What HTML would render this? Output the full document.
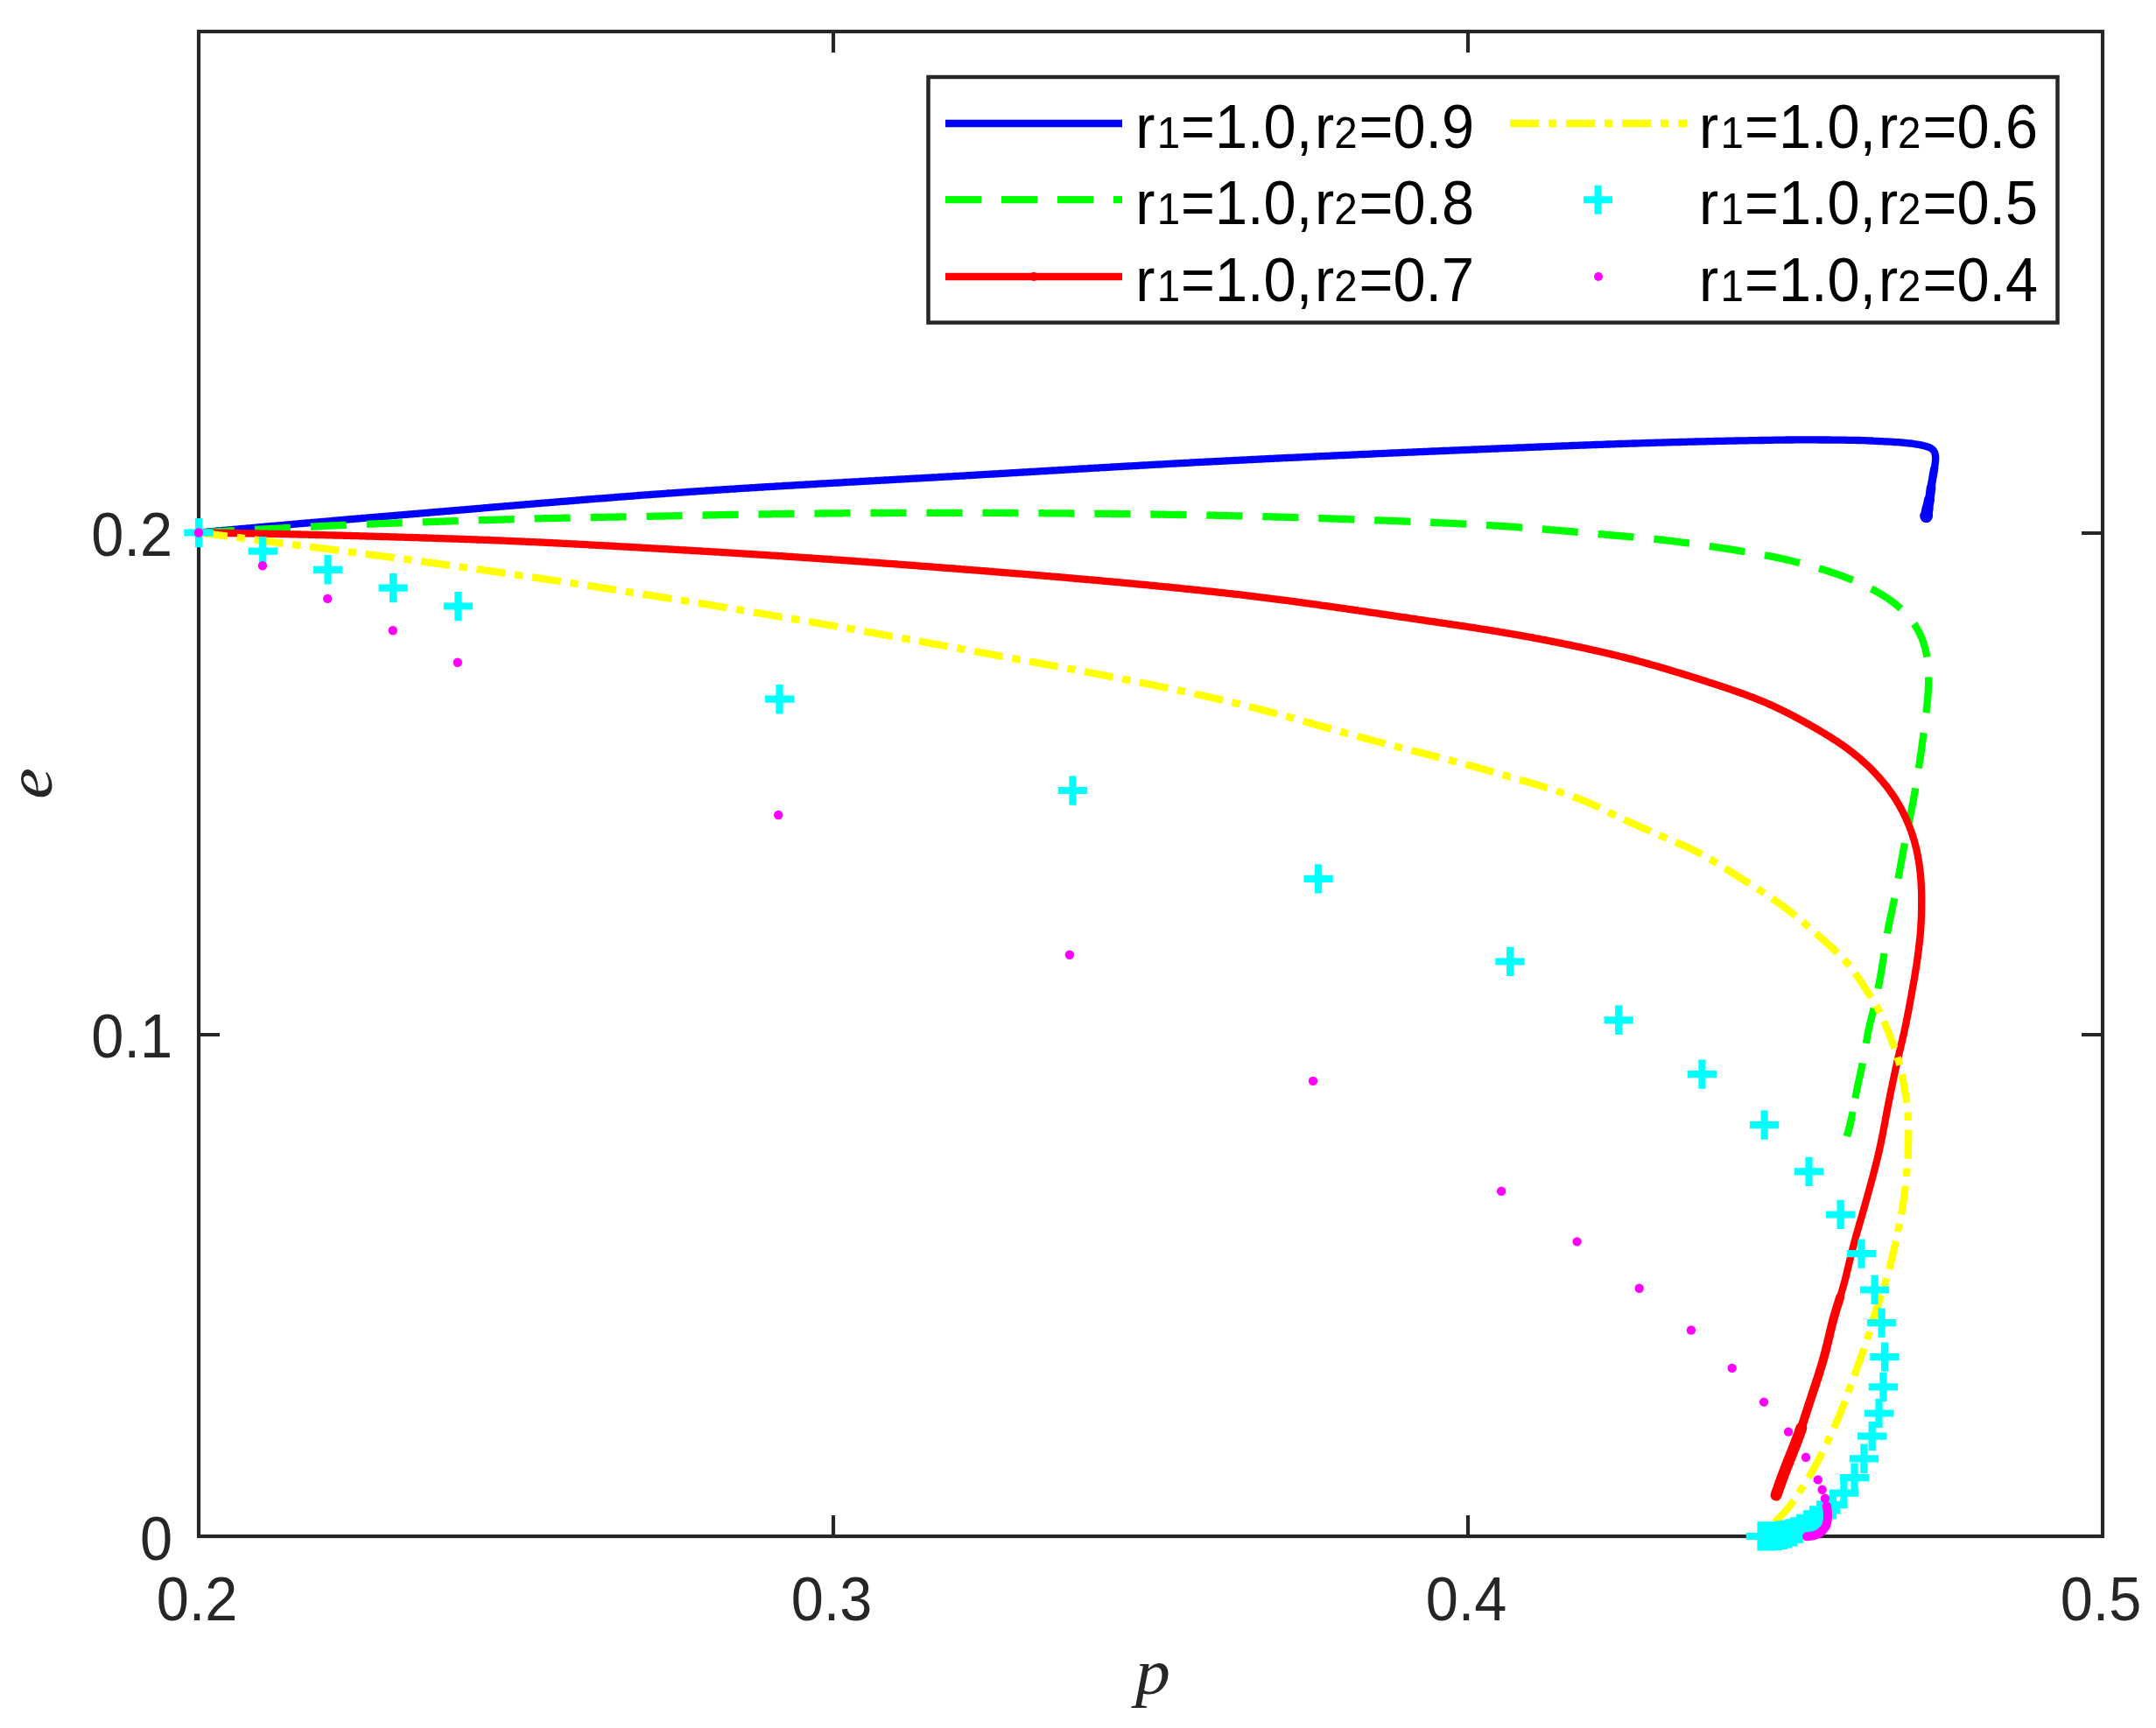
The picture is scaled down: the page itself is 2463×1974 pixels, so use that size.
<!DOCTYPE html>
<html lang="en"><head><meta charset="utf-8"><title>Trajectories of p and e</title>
<style>html,body{margin:0;padding:0;background:#fff}svg{display:block}.tk{font-family:"Liberation Sans",sans-serif;font-size:66.67px;fill:#262626}.lg{font-family:"Liberation Sans",sans-serif;font-size:66.67px;fill:#000}.sb{font-size:47.5px}.ax{font-family:"Liberation Serif",serif;font-style:italic;fill:#262626}</style></head><body>
<svg width="2463" height="1974" viewBox="0 0 2463 1974">
<rect width="2463" height="1974" fill="#fff"/>
<g stroke="#262626" stroke-width="4.17" fill="none" stroke-linecap="butt">
<rect x="227" y="36" width="2175" height="1719"/>
<path d="M952 1755 v-24 M952 36 v24"/>
<path d="M1677 1755 v-24 M1677 36 v24"/>
<path d="M227 1182 h24 M2402 1182 h-24"/>
<path d="M227 609 h24 M2402 609 h-24"/>
</g>
<text class="tk" transform="translate(225 1851) scale(1 1.06)" text-anchor="middle">0.2</text>
<text class="tk" transform="translate(950 1851) scale(1 1.06)" text-anchor="middle">0.3</text>
<text class="tk" transform="translate(1675 1851) scale(1 1.06)" text-anchor="middle">0.4</text>
<text class="tk" transform="translate(2400 1851) scale(1 1.06)" text-anchor="middle">0.5</text>
<text class="tk" transform="translate(197 1782) scale(1 1.06)" text-anchor="end">0</text>
<text class="tk" transform="translate(197 1208) scale(1 1.06)" text-anchor="end">0.1</text>
<text class="tk" transform="translate(197 635) scale(1 1.06)" text-anchor="end">0.2</text>
<text class="ax" transform="translate(1317 1934.5) scale(1.08 1)" font-size="74" text-anchor="middle">p</text>
<text class="ax" transform="translate(58.5 895) rotate(-90) scale(1.08 1)" font-size="74" text-anchor="middle">e</text>
<path d="M227.0 608.5 L229.0 608.3 L231.0 608.1 L233.0 608.0 L235.0 607.8 L237.0 607.6 L239.0 607.4 L240.9 607.2 L242.9 607.1 L244.9 606.9 L246.9 606.7 L248.9 606.5 L250.9 606.3 L252.9 606.2 L254.9 606.0 L256.9 605.8 L258.9 605.6 L260.9 605.4 L262.9 605.3 L264.9 605.1 L266.9 604.9 L268.8 604.7 L270.8 604.6 L272.8 604.4 L274.8 604.2 L276.8 604.0 L278.8 603.8 L280.8 603.7 L282.8 603.5 L284.8 603.3 L286.8 603.1 L288.8 603.0 L290.8 602.8 L292.8 602.6 L294.8 602.4 L296.7 602.2 L298.7 602.1 L300.7 601.9 L302.7 601.7 L304.7 601.5 L306.7 601.4 L308.7 601.2 L310.7 601.0 L312.7 600.8 L314.7 600.7 L316.7 600.5 L318.7 600.3 L320.7 600.1 L322.7 600.0 L324.6 599.8 L326.6 599.6 L328.6 599.4 L330.6 599.3 L332.6 599.1 L334.6 598.9 L336.6 598.7 L338.6 598.6 L340.6 598.4 L342.6 598.2 L344.6 598.0 L346.6 597.9 L348.6 597.7 L350.6 597.5 L352.5 597.3 L354.5 597.2 L356.5 597.0 L358.5 596.8 L360.5 596.6 L362.5 596.5 L364.5 596.3 L366.5 596.1 L368.5 595.9 L370.5 595.8 L372.5 595.6 L374.5 595.4 L376.5 595.3 L378.5 595.1 L380.5 594.9 L382.4 594.7 L384.4 594.6 L386.4 594.4 L388.4 594.2 L390.4 594.1 L392.4 593.9 L394.4 593.7 L396.4 593.5 L398.4 593.4 L400.4 593.2 L402.4 593.0 L404.4 592.9 L406.4 592.7 L408.4 592.5 L410.4 592.3 L412.3 592.2 L414.3 592.0 L416.3 591.8 L418.3 591.7 L420.3 591.5 L422.3 591.3 L424.3 591.1 L426.3 591.0 L428.3 590.8 L430.3 590.6 L432.3 590.5 L434.3 590.3 L436.3 590.1 L438.3 590.0 L440.3 589.8 L442.2 589.6 L444.2 589.5 L446.2 589.3 L448.2 589.1 L450.2 589.0 L452.2 588.8 L454.2 588.6 L456.2 588.4 L458.2 588.3 L460.2 588.1 L462.2 587.9 L464.2 587.8 L466.2 587.6 L468.2 587.4 L470.2 587.3 L472.2 587.1 L474.1 586.9 L476.1 586.8 L478.1 586.6 L480.1 586.4 L482.1 586.3 L484.1 586.1 L486.1 585.9 L488.1 585.8 L490.1 585.6 L492.1 585.4 L494.1 585.3 L496.1 585.1 L498.1 584.9 L500.1 584.8 L502.1 584.6 L504.1 584.4 L506.0 584.3 L508.0 584.1 L510.0 583.9 L512.0 583.8 L514.0 583.6 L516.0 583.4 L518.0 583.3 L520.0 583.1 L522.0 582.9 L524.0 582.8 L526.0 582.6 L528.0 582.4 L530.0 582.3 L532.0 582.1 L534.0 581.9 L536.0 581.8 L537.9 581.6 L539.9 581.4 L541.9 581.3 L543.9 581.1 L545.9 580.9 L547.9 580.8 L549.9 580.6 L551.9 580.4 L553.9 580.2 L555.9 580.1 L557.9 579.9 L559.9 579.7 L561.9 579.6 L563.9 579.4 L565.9 579.2 L567.9 579.1 L569.8 578.9 L571.8 578.7 L573.8 578.6 L575.8 578.4 L577.8 578.2 L579.8 578.1 L581.8 577.9 L583.8 577.7 L585.8 577.6 L587.8 577.4 L589.8 577.2 L591.8 577.1 L593.8 576.9 L595.8 576.7 L597.8 576.6 L599.8 576.4 L601.8 576.2 L603.7 576.1 L605.7 575.9 L607.7 575.7 L609.7 575.6 L611.7 575.4 L613.7 575.2 L615.7 575.1 L617.7 574.9 L619.7 574.7 L621.7 574.6 L623.7 574.4 L625.7 574.3 L627.7 574.1 L629.7 573.9 L631.7 573.8 L633.7 573.6 L635.6 573.4 L637.6 573.3 L639.6 573.1 L641.6 572.9 L643.6 572.8 L645.6 572.6 L647.6 572.5 L649.6 572.3 L651.6 572.1 L653.6 572.0 L655.6 571.8 L657.6 571.7 L659.6 571.5 L661.6 571.3 L663.6 571.2 L665.6 571.0 L667.6 570.9 L669.6 570.7 L671.5 570.5 L673.5 570.4 L675.5 570.2 L677.5 570.1 L679.5 569.9 L681.5 569.7 L683.5 569.6 L685.5 569.4 L687.5 569.3 L689.5 569.1 L691.5 569.0 L693.5 568.8 L695.5 568.6 L697.5 568.5 L699.5 568.3 L701.5 568.2 L703.5 568.0 L705.5 567.9 L707.4 567.7 L709.4 567.6 L711.4 567.4 L713.4 567.3 L715.4 567.1 L717.4 566.9 L719.4 566.8 L721.4 566.6 L723.4 566.5 L725.4 566.3 L727.4 566.2 L729.4 566.0 L731.4 565.9 L733.4 565.7 L735.4 565.6 L737.4 565.4 L739.4 565.3 L741.4 565.1 L743.4 565.0 L745.4 564.9 L747.3 564.7 L749.3 564.6 L751.3 564.4 L753.3 564.3 L755.3 564.1 L757.3 564.0 L759.3 563.8 L761.3 563.7 L763.3 563.5 L765.3 563.4 L767.3 563.3 L769.3 563.1 L771.3 563.0 L773.3 562.8 L775.3 562.7 L777.3 562.6 L779.3 562.4 L781.3 562.3 L783.3 562.1 L785.3 562.0 L787.3 561.9 L789.3 561.7 L791.2 561.6 L793.2 561.5 L795.2 561.3 L797.2 561.2 L799.2 561.1 L801.2 560.9 L803.2 560.8 L805.2 560.7 L807.2 560.5 L809.2 560.4 L811.2 560.3 L813.2 560.1 L815.2 560.0 L817.2 559.9 L819.2 559.7 L821.2 559.6 L823.2 559.5 L825.2 559.3 L827.2 559.2 L829.2 559.1 L831.2 559.0 L833.2 558.8 L835.2 558.7 L837.2 558.6 L839.2 558.5 L841.2 558.3 L843.1 558.2 L845.1 558.1 L847.1 557.9 L849.1 557.8 L851.1 557.7 L853.1 557.6 L855.1 557.5 L857.1 557.3 L859.1 557.2 L861.1 557.1 L863.1 557.0 L865.1 556.8 L867.1 556.7 L869.1 556.6 L871.1 556.5 L873.1 556.4 L875.1 556.2 L877.1 556.1 L879.1 556.0 L881.1 555.9 L883.1 555.8 L885.1 555.6 L887.1 555.5 L889.1 555.4 L891.1 555.3 L893.1 555.2 L895.1 555.0 L897.1 554.9 L899.1 554.8 L901.1 554.7 L903.1 554.6 L905.1 554.5 L907.1 554.3 L909.0 554.2 L911.0 554.1 L913.0 554.0 L915.0 553.9 L917.0 553.8 L919.0 553.6 L921.0 553.5 L923.0 553.4 L925.0 553.3 L927.0 553.2 L929.0 553.1 L931.0 553.0 L933.0 552.8 L935.0 552.7 L937.0 552.6 L939.0 552.5 L941.0 552.4 L943.0 552.3 L945.0 552.2 L947.0 552.1 L949.0 551.9 L951.0 551.8 L953.0 551.7 L955.0 551.6 L957.0 551.5 L959.0 551.4 L961.0 551.3 L963.0 551.2 L965.0 551.0 L967.0 550.9 L969.0 550.8 L971.0 550.7 L973.0 550.6 L975.0 550.5 L977.0 550.4 L979.0 550.3 L981.0 550.2 L983.0 550.0 L985.0 549.9 L987.0 549.8 L989.0 549.7 L991.0 549.6 L992.9 549.5 L994.9 549.4 L996.9 549.3 L998.9 549.2 L1000.9 549.0 L1002.9 548.9 L1004.9 548.8 L1006.9 548.7 L1008.9 548.6 L1010.9 548.5 L1012.9 548.4 L1014.9 548.3 L1016.9 548.2 L1018.9 548.1 L1020.9 547.9 L1022.9 547.8 L1024.9 547.7 L1026.9 547.6 L1028.9 547.5 L1030.9 547.4 L1032.9 547.3 L1034.9 547.2 L1036.9 547.1 L1038.9 546.9 L1040.9 546.8 L1042.9 546.7 L1044.9 546.6 L1046.9 546.5 L1048.9 546.4 L1050.9 546.3 L1052.9 546.2 L1054.9 546.1 L1056.9 545.9 L1058.9 545.8 L1060.9 545.7 L1062.9 545.6 L1064.9 545.5 L1066.9 545.4 L1068.9 545.3 L1070.9 545.2 L1072.9 545.0 L1074.9 544.9 L1076.9 544.8 L1078.8 544.7 L1080.8 544.6 L1082.8 544.5 L1084.8 544.4 L1086.8 544.3 L1088.8 544.1 L1090.8 544.0 L1092.8 543.9 L1094.8 543.8 L1096.8 543.7 L1098.8 543.6 L1100.8 543.5 L1102.8 543.3 L1104.8 543.2 L1106.8 543.1 L1108.8 543.0 L1110.8 542.9 L1112.8 542.8 L1114.8 542.6 L1116.8 542.5 L1118.8 542.4 L1120.8 542.3 L1122.8 542.2 L1124.8 542.1 L1126.8 541.9 L1128.8 541.8 L1130.8 541.7 L1132.8 541.6 L1134.8 541.5 L1136.8 541.4 L1138.8 541.3 L1140.8 541.1 L1142.8 541.0 L1144.8 540.9 L1146.8 540.8 L1148.8 540.7 L1150.8 540.6 L1152.8 540.4 L1154.7 540.3 L1156.7 540.2 L1158.7 540.1 L1160.7 540.0 L1162.7 539.8 L1164.7 539.7 L1166.7 539.6 L1168.7 539.5 L1170.7 539.4 L1172.7 539.3 L1174.7 539.1 L1176.7 539.0 L1178.7 538.9 L1180.7 538.8 L1182.7 538.7 L1184.7 538.6 L1186.7 538.4 L1188.7 538.3 L1190.7 538.2 L1192.7 538.1 L1194.7 538.0 L1196.7 537.9 L1198.7 537.7 L1200.7 537.6 L1202.7 537.5 L1204.7 537.4 L1206.7 537.3 L1208.7 537.1 L1210.7 537.0 L1212.7 536.9 L1214.7 536.8 L1216.7 536.7 L1218.7 536.6 L1220.7 536.4 L1222.7 536.3 L1224.7 536.2 L1226.7 536.1 L1228.7 536.0 L1230.6 535.9 L1232.6 535.7 L1234.6 535.6 L1236.6 535.5 L1238.6 535.4 L1240.6 535.3 L1242.6 535.2 L1244.6 535.0 L1246.6 534.9 L1248.6 534.8 L1250.6 534.7 L1252.6 534.6 L1254.6 534.5 L1256.6 534.3 L1258.6 534.2 L1260.6 534.1 L1262.6 534.0 L1264.6 533.9 L1266.6 533.8 L1268.6 533.7 L1270.6 533.5 L1272.6 533.4 L1274.6 533.3 L1276.6 533.2 L1278.6 533.1 L1280.6 533.0 L1282.6 532.9 L1284.6 532.7 L1286.6 532.6 L1288.6 532.5 L1290.6 532.4 L1292.6 532.3 L1294.6 532.2 L1296.6 532.1 L1298.6 532.0 L1300.6 531.8 L1302.6 531.7 L1304.6 531.6 L1306.5 531.5 L1308.5 531.4 L1310.5 531.3 L1312.5 531.2 L1314.5 531.1 L1316.5 530.9 L1318.5 530.8 L1320.5 530.7 L1322.5 530.6 L1324.5 530.5 L1326.5 530.4 L1328.5 530.3 L1330.5 530.2 L1332.5 530.1 L1334.5 529.9 L1336.5 529.8 L1338.5 529.7 L1340.5 529.6 L1342.5 529.5 L1344.5 529.4 L1346.5 529.3 L1348.5 529.2 L1350.5 529.1 L1352.5 529.0 L1354.5 528.9 L1356.5 528.8 L1358.5 528.7 L1360.5 528.5 L1362.5 528.4 L1364.5 528.3 L1366.5 528.2 L1368.5 528.1 L1370.5 528.0 L1372.5 527.9 L1374.5 527.8 L1376.5 527.7 L1378.5 527.6 L1380.5 527.5 L1382.5 527.4 L1384.5 527.3 L1386.5 527.2 L1388.5 527.1 L1390.5 527.0 L1392.5 526.9 L1394.5 526.8 L1396.4 526.7 L1398.4 526.6 L1400.4 526.5 L1402.4 526.4 L1404.4 526.3 L1406.4 526.2 L1408.4 526.1 L1410.4 526.0 L1412.4 525.9 L1414.4 525.8 L1416.4 525.7 L1418.4 525.6 L1420.4 525.5 L1422.4 525.4 L1424.4 525.3 L1426.4 525.2 L1428.4 525.1 L1430.4 525.0 L1432.4 524.9 L1434.4 524.8 L1436.4 524.7 L1438.4 524.6 L1440.4 524.5 L1442.4 524.4 L1444.4 524.3 L1446.4 524.2 L1448.4 524.1 L1450.4 524.0 L1452.4 523.9 L1454.4 523.8 L1456.4 523.7 L1458.4 523.6 L1460.4 523.5 L1462.4 523.4 L1464.4 523.3 L1466.4 523.2 L1468.4 523.1 L1470.4 523.0 L1472.4 522.9 L1474.4 522.8 L1476.4 522.8 L1478.4 522.7 L1480.4 522.6 L1482.4 522.5 L1484.4 522.4 L1486.4 522.3 L1488.4 522.2 L1490.4 522.1 L1492.4 522.0 L1494.4 521.9 L1496.4 521.8 L1498.4 521.7 L1500.4 521.6 L1502.4 521.5 L1504.4 521.4 L1506.4 521.3 L1508.4 521.2 L1510.4 521.2 L1512.4 521.1 L1514.4 521.0 L1516.3 520.9 L1518.3 520.8 L1520.3 520.7 L1522.3 520.6 L1524.3 520.5 L1526.3 520.4 L1528.3 520.3 L1530.3 520.2 L1532.3 520.1 L1534.3 520.0 L1536.3 520.0 L1538.3 519.9 L1540.3 519.8 L1542.3 519.7 L1544.3 519.6 L1546.3 519.5 L1548.3 519.4 L1550.3 519.3 L1552.3 519.2 L1554.3 519.1 L1556.3 519.0 L1558.3 519.0 L1560.3 518.9 L1562.3 518.8 L1564.3 518.7 L1566.3 518.6 L1568.3 518.5 L1570.3 518.4 L1572.3 518.3 L1574.3 518.2 L1576.3 518.1 L1578.3 518.1 L1580.3 518.0 L1582.3 517.9 L1584.3 517.8 L1586.3 517.7 L1588.3 517.6 L1590.3 517.5 L1592.3 517.4 L1594.3 517.4 L1596.3 517.3 L1598.3 517.2 L1600.3 517.1 L1602.3 517.0 L1604.3 516.9 L1606.3 516.8 L1608.3 516.7 L1610.3 516.7 L1612.3 516.6 L1614.3 516.5 L1616.3 516.4 L1618.3 516.3 L1620.3 516.2 L1622.3 516.1 L1624.3 516.1 L1626.3 516.0 L1628.3 515.9 L1630.3 515.8 L1632.3 515.7 L1634.3 515.6 L1636.3 515.5 L1638.3 515.5 L1640.3 515.4 L1642.3 515.3 L1644.3 515.2 L1646.3 515.1 L1648.3 515.0 L1650.3 515.0 L1652.3 514.9 L1654.3 514.8 L1656.3 514.7 L1658.3 514.6 L1660.3 514.5 L1662.3 514.4 L1664.3 514.4 L1666.3 514.3 L1668.3 514.2 L1670.3 514.1 L1672.3 514.0 L1674.3 514.0 L1676.3 513.9 L1678.3 513.8 L1680.3 513.7 L1682.3 513.6 L1684.2 513.5 L1686.2 513.5 L1688.2 513.4 L1690.2 513.3 L1692.2 513.2 L1694.2 513.1 L1696.2 513.1 L1698.2 513.0 L1700.2 512.9 L1702.2 512.8 L1704.2 512.7 L1706.2 512.6 L1708.2 512.6 L1710.2 512.5 L1712.2 512.4 L1714.2 512.3 L1716.2 512.2 L1718.2 512.2 L1720.2 512.1 L1722.2 512.0 L1724.2 511.9 L1726.2 511.8 L1728.2 511.8 L1730.2 511.7 L1732.2 511.6 L1734.2 511.5 L1736.2 511.4 L1738.2 511.3 L1740.2 511.3 L1742.2 511.2 L1744.2 511.1 L1746.2 511.0 L1748.2 510.9 L1750.2 510.9 L1752.2 510.8 L1754.2 510.7 L1756.2 510.6 L1758.2 510.5 L1760.2 510.5 L1762.2 510.4 L1764.2 510.3 L1766.2 510.2 L1768.2 510.1 L1770.2 510.1 L1772.2 510.0 L1774.2 509.9 L1776.2 509.8 L1778.2 509.7 L1780.2 509.7 L1782.2 509.6 L1784.2 509.5 L1786.2 509.4 L1788.2 509.3 L1790.2 509.3 L1792.2 509.2 L1794.2 509.1 L1796.2 509.0 L1798.2 508.9 L1800.2 508.9 L1802.2 508.8 L1804.2 508.7 L1806.2 508.6 L1808.2 508.6 L1810.2 508.5 L1812.2 508.4 L1814.2 508.3 L1816.2 508.3 L1818.2 508.2 L1820.2 508.1 L1822.2 508.0 L1824.2 508.0 L1826.2 507.9 L1828.2 507.8 L1830.2 507.8 L1832.2 507.7 L1834.2 507.6 L1836.2 507.5 L1838.2 507.5 L1840.2 507.4 L1842.2 507.3 L1844.2 507.3 L1846.2 507.2 L1848.2 507.1 L1850.2 507.0 L1852.2 507.0 L1854.2 506.9 L1856.2 506.8 L1858.2 506.8 L1860.2 506.7 L1862.2 506.6 L1864.2 506.6 L1866.2 506.5 L1868.2 506.5 L1870.2 506.4 L1872.2 506.3 L1874.2 506.3 L1876.2 506.2 L1878.2 506.1 L1880.2 506.1 L1882.2 506.0 L1884.2 506.0 L1886.2 505.9 L1888.2 505.8 L1890.2 505.8 L1892.2 505.7 L1894.2 505.7 L1896.2 505.6 L1898.2 505.6 L1900.2 505.5 L1902.2 505.4 L1904.2 505.4 L1906.2 505.3 L1908.2 505.3 L1910.2 505.2 L1912.2 505.2 L1914.2 505.1 L1916.2 505.1 L1918.2 505.0 L1920.2 505.0 L1922.2 504.9 L1924.2 504.9 L1926.2 504.8 L1928.2 504.7 L1930.2 504.7 L1932.2 504.6 L1934.2 504.6 L1936.2 504.5 L1938.2 504.5 L1940.2 504.4 L1942.2 504.4 L1944.2 504.3 L1946.2 504.3 L1948.2 504.3 L1950.2 504.2 L1952.2 504.2 L1954.2 504.1 L1956.2 504.1 L1958.2 504.0 L1960.2 504.0 L1962.2 503.9 L1964.2 503.9 L1966.2 503.8 L1968.2 503.8 L1970.2 503.8 L1972.2 503.7 L1974.2 503.7 L1976.2 503.6 L1978.2 503.6 L1980.2 503.6 L1982.2 503.5 L1984.2 503.5 L1986.2 503.4 L1988.2 503.4 L1990.2 503.4 L1992.2 503.3 L1994.2 503.3 L1996.2 503.3 L1998.2 503.2 L2000.2 503.2 L2002.2 503.2 L2004.2 503.1 L2006.2 503.1 L2008.2 503.1 L2010.2 503.0 L2012.2 503.0 L2014.2 503.0 L2016.2 502.9 L2018.2 502.9 L2020.2 502.8 L2022.2 502.8 L2024.2 502.8 L2026.2 502.7 L2028.2 502.7 L2030.2 502.7 L2032.2 502.6 L2034.2 502.6 L2036.2 502.6 L2038.2 502.6 L2040.2 502.5 L2042.2 502.5 L2044.2 502.5 L2046.2 502.5 L2048.2 502.5 L2050.2 502.4 L2052.2 502.4 L2054.2 502.4 L2056.2 502.4 L2058.2 502.4 L2060.2 502.4 L2062.2 502.4 L2064.2 502.4 L2066.2 502.4 L2068.2 502.4 L2070.2 502.4 L2072.2 502.4 L2074.2 502.4 L2076.2 502.4 L2078.2 502.5 L2080.2 502.5 L2082.2 502.5 L2084.2 502.5 L2086.2 502.5 L2088.2 502.5 L2090.2 502.5 L2092.2 502.6 L2094.2 502.6 L2096.2 502.6 L2098.2 502.6 L2100.2 502.6 L2102.2 502.7 L2104.2 502.7 L2106.2 502.7 L2108.2 502.7 L2110.2 502.8 L2112.2 502.8 L2114.2 502.8 L2116.2 502.8 L2118.2 502.9 L2120.2 502.9 L2122.2 503.0 L2124.2 503.0 L2126.2 503.1 L2128.2 503.1 L2130.2 503.2 L2132.2 503.3 L2134.2 503.4 L2136.2 503.5 L2138.2 503.5 L2140.2 503.7 L2142.2 503.8 L2144.2 503.9 L2146.2 504.0 L2148.2 504.1 L2150.2 504.2 L2152.2 504.3 L2154.2 504.4 L2156.2 504.5 L2158.2 504.6 L2160.2 504.7 L2162.2 504.8 L2164.2 505.0 L2166.2 505.1 L2168.2 505.2 L2170.2 505.4 L2172.2 505.5 L2174.2 505.7 L2176.2 505.9 L2178.1 506.1 L2180.1 506.3 L2182.1 506.5 L2184.1 506.7 L2186.1 507.0 L2188.1 507.3 L2190.1 507.6 L2192.0 507.9 L2194.0 508.3 L2195.9 508.7 L2197.9 509.2 L2199.8 509.7 L2201.8 510.3 L2203.7 511.0 L2205.4 511.8 L2207.1 512.9 L2208.5 514.2 L2209.5 515.7 L2210.3 517.5 L2210.8 519.4 L2211.1 521.4 L2211.1 523.3 L2211.1 525.3 L2210.9 527.3 L2210.7 529.3 L2210.4 531.3 L2210.1 533.3 L2209.8 535.3 L2209.4 537.2 L2209.0 539.2 L2208.7 541.2 L2208.3 543.1 L2208.0 545.1 L2207.7 547.1 L2207.3 549.1 L2207.0 551.0 L2206.7 553.0 L2206.4 555.0 L2206.1 557.0 L2205.8 558.9 L2205.6 560.9 L2205.3 562.9 L2205.1 564.9 L2204.8 566.9 L2204.4 568.8 L2204.0 570.8 L2203.6 572.8 L2203.2 574.7 L2202.8 576.7 L2202.4 578.6 L2202.1 580.6 L2201.8 582.6 L2201.5 584.6 L2201.2 586.5 L2200.9 588.5 L2200.6 590.5" fill="none" stroke="#0000ff" stroke-width="8.33" stroke-linejoin="round"/>
<circle cx="2200.6" cy="589.5" r="7.4" fill="#0000ff"/>
<path d="M227.0 608.5 L229.0 608.4 L231.0 608.3 L233.0 608.2 L235.0 608.1 L237.0 607.9 L239.0 607.8 L241.0 607.7 L243.0 607.6 L245.0 607.5 L247.0 607.4 L249.0 607.3 L251.0 607.2 L253.0 607.1 L255.0 607.0 L257.0 606.9 L259.0 606.7 L261.0 606.6 L263.0 606.5 L265.0 606.4 L267.0 606.3 L269.0 606.2 L271.0 606.1 L273.0 606.0 L275.0 605.9 L277.0 605.8 L279.0 605.7 L281.0 605.6 L283.0 605.5 L284.9 605.4 L286.9 605.2 L288.9 605.1 L290.9 605.0 L292.9 604.9 L294.9 604.8 L296.9 604.7 L298.9 604.6 L300.9 604.5 L302.9 604.4 L304.9 604.3 L306.9 604.2 L308.9 604.1 L310.9 604.0 L312.9 603.9 L314.9 603.8 L316.9 603.7 L318.9 603.6 L320.9 603.5 L322.9 603.3 L324.9 603.2 L326.9 603.1 L328.9 603.0 L330.9 602.9 L332.9 602.8 L334.9 602.7 L336.9 602.6 L338.9 602.5 L340.9 602.4 L342.9 602.3 L344.9 602.2 L346.9 602.1 L348.9 602.0 L350.9 601.9 L352.9 601.8 L354.9 601.7 L356.9 601.6 L358.9 601.5 L360.9 601.4 L362.9 601.3 L364.9 601.2 L366.9 601.1 L368.9 601.0 L370.9 600.9 L372.9 600.8 L374.9 600.7 L376.9 600.6 L378.9 600.5 L380.9 600.4 L382.9 600.4 L384.9 600.3 L386.9 600.2 L388.9 600.1 L390.9 600.0 L392.9 599.9 L394.9 599.8 L396.9 599.7 L398.9 599.6 L400.9 599.6 L402.9 599.5 L404.9 599.4 L406.9 599.3 L408.9 599.2 L410.9 599.1 L412.9 599.1 L414.9 599.0 L416.9 598.9 L418.9 598.8 L420.9 598.7 L422.9 598.6 L424.9 598.6 L426.9 598.5 L428.9 598.4 L430.9 598.3 L432.9 598.2 L434.9 598.2 L436.9 598.1 L438.9 598.0 L440.9 597.9 L442.9 597.9 L444.9 597.8 L446.9 597.7 L448.9 597.6 L450.9 597.6 L452.9 597.5 L454.9 597.4 L456.9 597.3 L458.9 597.3 L460.9 597.2 L462.9 597.1 L464.9 597.0 L466.9 597.0 L468.9 596.9 L470.9 596.8 L472.9 596.7 L474.9 596.7 L476.9 596.6 L478.9 596.5 L480.9 596.5 L482.9 596.4 L484.9 596.3 L486.9 596.3 L488.9 596.2 L490.9 596.1 L492.9 596.0 L494.9 596.0 L496.9 595.9 L498.9 595.8 L500.9 595.8 L502.9 595.7 L504.9 595.6 L506.9 595.6 L508.9 595.5 L510.9 595.4 L512.9 595.4 L514.9 595.3 L516.9 595.2 L518.9 595.2 L520.9 595.1 L522.9 595.1 L524.9 595.0 L526.9 594.9 L528.9 594.9 L530.9 594.8 L532.9 594.7 L534.9 594.7 L536.9 594.6 L538.9 594.5 L540.9 594.5 L542.9 594.4 L544.9 594.4 L546.9 594.3 L548.9 594.2 L550.9 594.2 L552.9 594.1 L554.9 594.1 L556.9 594.0 L558.9 593.9 L560.9 593.9 L562.9 593.8 L564.9 593.8 L566.9 593.7 L568.9 593.7 L570.9 593.6 L572.9 593.5 L574.9 593.5 L576.9 593.4 L578.9 593.4 L580.9 593.3 L582.9 593.3 L584.9 593.2 L586.9 593.1 L588.9 593.1 L590.9 593.0 L592.9 593.0 L594.9 592.9 L596.9 592.9 L598.9 592.8 L600.9 592.8 L602.9 592.7 L604.9 592.7 L606.9 592.6 L608.9 592.6 L610.9 592.5 L612.9 592.4 L614.9 592.4 L616.9 592.3 L618.9 592.3 L620.9 592.2 L622.9 592.2 L624.9 592.2 L626.9 592.1 L628.9 592.1 L630.9 592.0 L632.9 592.0 L634.9 591.9 L636.9 591.9 L638.9 591.8 L640.9 591.8 L642.9 591.7 L644.9 591.7 L646.9 591.7 L648.9 591.6 L650.9 591.6 L652.9 591.5 L654.9 591.5 L656.9 591.4 L658.9 591.4 L660.9 591.4 L662.9 591.3 L664.9 591.3 L666.9 591.2 L668.9 591.2 L670.9 591.2 L672.9 591.1 L674.9 591.1 L676.9 591.1 L678.9 591.0 L680.9 591.0 L682.9 590.9 L684.9 590.9 L686.9 590.9 L688.9 590.8 L690.9 590.8 L692.9 590.7 L694.9 590.7 L696.9 590.7 L698.9 590.6 L700.9 590.6 L702.9 590.6 L704.9 590.5 L706.9 590.5 L708.9 590.4 L710.9 590.4 L712.9 590.4 L714.9 590.3 L716.9 590.3 L718.9 590.3 L720.9 590.2 L722.9 590.2 L724.9 590.1 L726.9 590.1 L728.9 590.1 L730.9 590.0 L732.9 590.0 L734.9 590.0 L736.9 589.9 L738.9 589.9 L740.9 589.8 L742.9 589.8 L744.9 589.8 L746.9 589.7 L748.9 589.7 L750.9 589.7 L752.9 589.6 L754.9 589.6 L756.9 589.5 L758.9 589.5 L760.9 589.4 L762.9 589.4 L764.9 589.4 L766.9 589.3 L768.9 589.3 L770.9 589.2 L772.9 589.2 L774.9 589.1 L776.9 589.1 L778.9 589.1 L780.9 589.0 L782.9 589.0 L784.9 588.9 L787.0 588.9 L789.0 588.8 L791.0 588.8 L793.0 588.8 L795.0 588.7 L797.0 588.7 L799.0 588.6 L801.0 588.6 L803.0 588.6 L805.0 588.5 L807.0 588.5 L809.0 588.4 L811.0 588.4 L813.0 588.4 L815.0 588.3 L817.0 588.3 L819.0 588.3 L821.0 588.2 L823.0 588.2 L825.0 588.1 L827.0 588.1 L829.0 588.1 L831.0 588.0 L833.0 588.0 L835.0 588.0 L837.0 587.9 L839.0 587.9 L841.0 587.9 L843.0 587.8 L845.0 587.8 L847.0 587.8 L849.0 587.7 L851.0 587.7 L853.0 587.7 L855.0 587.6 L857.0 587.6 L859.0 587.6 L861.0 587.5 L863.0 587.5 L865.0 587.5 L867.0 587.5 L869.0 587.4 L871.0 587.4 L873.0 587.4 L875.0 587.3 L877.0 587.3 L879.0 587.3 L881.0 587.3 L883.0 587.2 L885.0 587.2 L887.0 587.2 L889.0 587.1 L891.0 587.1 L893.0 587.1 L895.0 587.1 L897.0 587.0 L899.0 587.0 L901.0 587.0 L903.0 587.0 L905.0 586.9 L907.0 586.9 L909.0 586.9 L911.0 586.9 L913.0 586.8 L915.0 586.8 L917.0 586.8 L919.0 586.8 L921.0 586.7 L923.0 586.7 L925.0 586.7 L927.0 586.7 L929.0 586.6 L931.0 586.6 L933.0 586.6 L935.0 586.6 L937.0 586.5 L939.0 586.5 L941.0 586.5 L943.0 586.5 L945.0 586.4 L947.0 586.4 L949.0 586.4 L951.0 586.4 L953.0 586.4 L955.0 586.3 L957.0 586.3 L959.0 586.3 L961.0 586.3 L963.0 586.3 L965.0 586.2 L967.0 586.2 L969.0 586.2 L971.0 586.2 L973.0 586.2 L975.0 586.2 L977.0 586.1 L979.0 586.1 L981.0 586.1 L983.0 586.1 L985.0 586.1 L987.1 586.1 L989.1 586.1 L991.1 586.1 L993.1 586.0 L995.1 586.0 L997.1 586.0 L999.1 586.0 L1001.1 586.0 L1003.1 586.0 L1005.1 586.0 L1007.1 586.0 L1009.1 586.0 L1011.1 586.0 L1013.1 586.0 L1015.1 586.0 L1017.1 585.9 L1019.1 585.9 L1021.1 585.9 L1023.1 585.9 L1025.1 585.9 L1027.1 585.9 L1029.1 585.9 L1031.1 585.9 L1033.1 585.9 L1035.1 585.9 L1037.1 585.9 L1039.1 585.9 L1041.1 585.9 L1043.1 585.9 L1045.1 585.9 L1047.1 585.9 L1049.1 585.9 L1051.1 585.9 L1053.1 585.9 L1055.1 585.9 L1057.1 585.8 L1059.1 585.8 L1061.1 585.8 L1063.1 585.8 L1065.1 585.8 L1067.1 585.8 L1069.1 585.8 L1071.1 585.8 L1073.1 585.8 L1075.1 585.8 L1077.1 585.8 L1079.1 585.8 L1081.1 585.8 L1083.1 585.8 L1085.1 585.8 L1087.1 585.8 L1089.1 585.8 L1091.1 585.8 L1093.1 585.8 L1095.1 585.8 L1097.1 585.8 L1099.1 585.8 L1101.1 585.8 L1103.1 585.8 L1105.1 585.8 L1107.1 585.8 L1109.1 585.8 L1111.1 585.8 L1113.1 585.8 L1115.1 585.8 L1117.1 585.8 L1119.1 585.8 L1121.1 585.8 L1123.1 585.8 L1125.1 585.9 L1127.1 585.9 L1129.1 585.9 L1131.1 585.9 L1133.1 585.9 L1135.1 585.9 L1137.1 585.9 L1139.1 585.9 L1141.1 585.9 L1143.1 585.9 L1145.1 585.9 L1147.1 586.0 L1149.1 586.0 L1151.1 586.0 L1153.2 586.0 L1155.2 586.0 L1157.2 586.0 L1159.2 586.0 L1161.2 586.0 L1163.2 586.1 L1165.2 586.1 L1167.2 586.1 L1169.2 586.1 L1171.2 586.1 L1173.2 586.1 L1175.2 586.1 L1177.2 586.1 L1179.2 586.2 L1181.2 586.2 L1183.2 586.2 L1185.2 586.2 L1187.2 586.2 L1189.2 586.2 L1191.2 586.2 L1193.2 586.3 L1195.2 586.3 L1197.2 586.3 L1199.2 586.3 L1201.2 586.3 L1203.2 586.3 L1205.2 586.3 L1207.2 586.4 L1209.2 586.4 L1211.2 586.4 L1213.2 586.4 L1215.2 586.4 L1217.2 586.4 L1219.2 586.4 L1221.2 586.5 L1223.2 586.5 L1225.2 586.5 L1227.2 586.5 L1229.2 586.5 L1231.2 586.6 L1233.2 586.6 L1235.2 586.6 L1237.2 586.6 L1239.2 586.6 L1241.2 586.6 L1243.2 586.7 L1245.2 586.7 L1247.2 586.7 L1249.2 586.7 L1251.2 586.7 L1253.2 586.8 L1255.2 586.8 L1257.2 586.8 L1259.2 586.8 L1261.2 586.8 L1263.2 586.9 L1265.2 586.9 L1267.2 586.9 L1269.2 586.9 L1271.2 587.0 L1273.2 587.0 L1275.2 587.0 L1277.2 587.0 L1279.2 587.1 L1281.2 587.1 L1283.2 587.1 L1285.2 587.1 L1287.2 587.1 L1289.2 587.2 L1291.2 587.2 L1293.2 587.2 L1295.2 587.2 L1297.2 587.3 L1299.2 587.3 L1301.2 587.3 L1303.2 587.3 L1305.2 587.4 L1307.2 587.4 L1309.2 587.4 L1311.2 587.5 L1313.2 587.5 L1315.2 587.5 L1317.2 587.5 L1319.2 587.6 L1321.2 587.6 L1323.2 587.6 L1325.2 587.7 L1327.2 587.7 L1329.2 587.7 L1331.2 587.7 L1333.3 587.8 L1335.3 587.8 L1337.3 587.8 L1339.3 587.9 L1341.3 587.9 L1343.3 587.9 L1345.3 588.0 L1347.3 588.0 L1349.3 588.0 L1351.3 588.1 L1353.3 588.1 L1355.3 588.1 L1357.3 588.2 L1359.3 588.2 L1361.3 588.2 L1363.3 588.3 L1365.3 588.3 L1367.3 588.4 L1369.3 588.4 L1371.3 588.4 L1373.3 588.5 L1375.3 588.5 L1377.3 588.5 L1379.3 588.6 L1381.3 588.6 L1383.3 588.7 L1385.3 588.7 L1387.3 588.7 L1389.3 588.8 L1391.3 588.8 L1393.3 588.9 L1395.3 588.9 L1397.3 589.0 L1399.3 589.0 L1401.3 589.0 L1403.3 589.1 L1405.3 589.1 L1407.3 589.2 L1409.3 589.2 L1411.3 589.3 L1413.3 589.3 L1415.3 589.4 L1417.3 589.4 L1419.3 589.4 L1421.3 589.5 L1423.3 589.5 L1425.3 589.6 L1427.3 589.6 L1429.3 589.7 L1431.3 589.7 L1433.3 589.8 L1435.3 589.9 L1437.3 589.9 L1439.3 590.0 L1441.3 590.0 L1443.3 590.1 L1445.3 590.1 L1447.3 590.2 L1449.3 590.2 L1451.3 590.3 L1453.3 590.3 L1455.3 590.4 L1457.3 590.5 L1459.3 590.5 L1461.3 590.6 L1463.3 590.6 L1465.3 590.7 L1467.3 590.8 L1469.3 590.8 L1471.3 590.9 L1473.3 590.9 L1475.3 591.0 L1477.3 591.1 L1479.3 591.1 L1481.3 591.2 L1483.3 591.2 L1485.3 591.3 L1487.3 591.4 L1489.3 591.4 L1491.3 591.5 L1493.3 591.6 L1495.3 591.6 L1497.3 591.7 L1499.3 591.8 L1501.3 591.8 L1503.3 591.9 L1505.3 592.0 L1507.3 592.0 L1509.3 592.1 L1511.3 592.2 L1513.3 592.2 L1515.3 592.3 L1517.3 592.4 L1519.3 592.4 L1521.3 592.5 L1523.3 592.6 L1525.3 592.6 L1527.3 592.7 L1529.3 592.8 L1531.3 592.8 L1533.3 592.9 L1535.3 593.0 L1537.3 593.1 L1539.3 593.1 L1541.3 593.2 L1543.3 593.3 L1545.3 593.3 L1547.3 593.4 L1549.3 593.5 L1551.3 593.5 L1553.3 593.6 L1555.3 593.7 L1557.3 593.8 L1559.3 593.8 L1561.3 593.9 L1563.3 594.0 L1565.3 594.1 L1567.3 594.1 L1569.3 594.2 L1571.3 594.3 L1573.3 594.3 L1575.3 594.4 L1577.3 594.5 L1579.3 594.6 L1581.3 594.6 L1583.3 594.7 L1585.3 594.8 L1587.3 594.9 L1589.3 594.9 L1591.3 595.0 L1593.3 595.1 L1595.3 595.2 L1597.3 595.2 L1599.3 595.3 L1601.3 595.4 L1603.3 595.5 L1605.3 595.6 L1607.3 595.6 L1609.3 595.7 L1611.3 595.8 L1613.3 595.9 L1615.3 596.0 L1617.3 596.0 L1619.3 596.1 L1621.3 596.2 L1623.3 596.3 L1625.3 596.4 L1627.3 596.5 L1629.3 596.5 L1631.3 596.6 L1633.3 596.7 L1635.3 596.8 L1637.3 596.9 L1639.3 597.0 L1641.3 597.1 L1643.3 597.2 L1645.3 597.3 L1647.3 597.3 L1649.3 597.4 L1651.3 597.5 L1653.3 597.6 L1655.3 597.7 L1657.3 597.8 L1659.3 597.9 L1661.3 598.0 L1663.3 598.1 L1665.3 598.2 L1667.3 598.3 L1669.3 598.4 L1671.3 598.5 L1673.3 598.6 L1675.3 598.7 L1677.3 598.8 L1679.3 598.9 L1681.3 599.0 L1683.3 599.1 L1685.3 599.2 L1687.3 599.3 L1689.3 599.4 L1691.3 599.5 L1693.3 599.6 L1695.3 599.8 L1697.3 599.9 L1699.3 600.0 L1701.2 600.1 L1703.2 600.2 L1705.2 600.3 L1707.2 600.5 L1709.2 600.6 L1711.2 600.7 L1713.2 600.8 L1715.2 601.0 L1717.2 601.1 L1719.2 601.2 L1721.2 601.4 L1723.2 601.5 L1725.2 601.6 L1727.2 601.8 L1729.2 601.9 L1731.2 602.0 L1733.2 602.2 L1735.2 602.3 L1737.2 602.5 L1739.2 602.6 L1741.2 602.8 L1743.2 602.9 L1745.2 603.1 L1747.2 603.2 L1749.2 603.4 L1751.1 603.5 L1753.1 603.7 L1755.1 603.9 L1757.1 604.0 L1759.1 604.2 L1761.1 604.3 L1763.1 604.5 L1765.1 604.7 L1767.1 604.8 L1769.1 605.0 L1771.1 605.2 L1773.1 605.3 L1775.1 605.5 L1777.1 605.7 L1779.1 605.8 L1781.1 606.0 L1783.1 606.2 L1785.1 606.4 L1787.1 606.5 L1789.0 606.7 L1791.0 606.9 L1793.0 607.1 L1795.0 607.2 L1797.0 607.4 L1799.0 607.6 L1801.0 607.8 L1803.0 607.9 L1805.0 608.1 L1807.0 608.3 L1809.0 608.5 L1811.0 608.7 L1813.0 608.8 L1815.0 609.0 L1817.0 609.2 L1819.0 609.4 L1820.9 609.5 L1822.9 609.7 L1824.9 609.9 L1826.9 610.1 L1828.9 610.2 L1830.9 610.4 L1832.9 610.6 L1834.9 610.8 L1836.9 611.0 L1838.9 611.1 L1840.9 611.3 L1842.9 611.5 L1844.9 611.7 L1846.9 611.8 L1848.9 612.0 L1850.9 612.2 L1852.8 612.4 L1854.8 612.5 L1856.8 612.7 L1858.8 612.9 L1860.8 613.1 L1862.8 613.2 L1864.8 613.4 L1866.8 613.6 L1868.8 613.8 L1870.8 614.0 L1872.8 614.1 L1874.8 614.3 L1876.8 614.5 L1878.8 614.7 L1880.8 614.9 L1882.7 615.1 L1884.7 615.3 L1886.7 615.5 L1888.7 615.7 L1890.7 615.9 L1892.7 616.1 L1894.7 616.3 L1896.7 616.5 L1898.7 616.7 L1900.7 616.9 L1902.6 617.2 L1904.6 617.4 L1906.6 617.6 L1908.6 617.9 L1910.6 618.1 L1912.6 618.3 L1914.6 618.6 L1916.5 618.8 L1918.5 619.1 L1920.5 619.3 L1922.5 619.6 L1924.5 619.8 L1926.5 620.1 L1928.5 620.4 L1930.4 620.6 L1932.4 620.9 L1934.4 621.2 L1936.4 621.5 L1938.4 621.7 L1940.4 622.0 L1942.3 622.3 L1944.3 622.6 L1946.3 622.9 L1948.3 623.2 L1950.3 623.5 L1952.2 623.8 L1954.2 624.1 L1956.2 624.4 L1958.2 624.7 L1960.2 625.0 L1962.1 625.3 L1964.1 625.6 L1966.1 625.9 L1968.1 626.2 L1970.0 626.5 L1972.0 626.8 L1974.0 627.1 L1976.0 627.4 L1978.0 627.7 L1979.9 628.0 L1981.9 628.4 L1983.9 628.7 L1985.9 629.0 L1987.8 629.3 L1989.8 629.6 L1991.8 630.0 L1993.8 630.3 L1995.7 630.6 L1997.7 631.0 L1999.7 631.3 L2001.7 631.6 L2003.6 632.0 L2005.6 632.3 L2007.6 632.7 L2009.6 633.0 L2011.5 633.4 L2013.5 633.7 L2015.5 634.1 L2017.4 634.5 L2019.4 634.9 L2021.4 635.2 L2023.3 635.6 L2025.3 636.0 L2027.2 636.4 L2029.2 636.8 L2031.2 637.2 L2033.1 637.6 L2035.1 638.1 L2037.0 638.5 L2039.0 638.9 L2040.9 639.4 L2042.9 639.8 L2044.8 640.3 L2046.8 640.7 L2048.7 641.2 L2050.6 641.7 L2052.6 642.2 L2054.5 642.6 L2056.5 643.1 L2058.4 643.7 L2060.3 644.2 L2062.3 644.7 L2064.2 645.2 L2066.1 645.8 L2068.1 646.3 L2070.0 646.8 L2071.9 647.4 L2073.9 648.0 L2075.8 648.5 L2077.7 649.1 L2079.6 649.7 L2081.5 650.3 L2083.4 650.9 L2085.3 651.5 L2087.2 652.1 L2089.2 652.7 L2091.1 653.3 L2093.0 654.0 L2094.8 654.6 L2096.7 655.2 L2098.6 655.9 L2100.5 656.6 L2102.4 657.3 L2104.3 657.9 L2106.1 658.6 L2108.0 659.3 L2109.9 660.1 L2111.7 660.8 L2113.6 661.5 L2115.4 662.3 L2117.3 663.1 L2119.1 663.9 L2121.0 664.6 L2122.8 665.5 L2124.6 666.3 L2126.5 667.1 L2128.3 667.9 L2130.1 668.8 L2131.9 669.7 L2133.7 670.5 L2135.5 671.4 L2137.3 672.3 L2139.1 673.2 L2140.8 674.2 L2142.6 675.1 L2144.3 676.1 L2146.1 677.1 L2147.8 678.1 L2149.5 679.1 L2151.2 680.1 L2152.9 681.2 L2154.6 682.3 L2156.3 683.4 L2157.9 684.5 L2159.5 685.7 L2161.1 686.8 L2162.7 688.0 L2164.3 689.3 L2165.9 690.5 L2167.4 691.8 L2168.9 693.1 L2170.4 694.4 L2171.9 695.8 L2173.3 697.2 L2174.7 698.6 L2176.1 700.0 L2177.5 701.4 L2178.8 702.9 L2180.1 704.4 L2181.4 705.9 L2182.7 707.5 L2183.9 709.0 L2185.1 710.6 L2186.2 712.2 L2187.4 713.9 L2188.4 715.6 L2189.5 717.2 L2190.5 719.0 L2191.4 720.7 L2192.4 722.4 L2193.3 724.2 L2194.1 726.0 L2194.9 727.8 L2195.7 729.7 L2196.4 731.5 L2197.1 733.4 L2197.7 735.3 L2198.3 737.2 L2198.8 739.1 L2199.4 741.0 L2199.8 742.9 L2200.3 744.9 L2200.7 746.8 L2201.1 748.8 L2201.4 750.7 L2201.7 752.7 L2202.0 754.7 L2202.2 756.7 L2202.4 758.6 L2202.6 760.6 L2202.8 762.6 L2202.9 764.6 L2203.0 766.6 L2203.1 768.6 L2203.2 770.6 L2203.2 772.6 L2203.2 774.6 L2203.2 776.6 L2203.2 778.6 L2203.2 780.6 L2203.1 782.6 L2203.0 784.6 L2202.9 786.6 L2202.8 788.6 L2202.7 790.6 L2202.6 792.6 L2202.4 794.6 L2202.3 796.6 L2202.1 798.6 L2201.9 800.5 L2201.7 802.5 L2201.5 804.5 L2201.3 806.5 L2201.0 808.5 L2200.8 810.5 L2200.6 812.5 L2200.3 814.5 L2200.1 816.4 L2199.8 818.4 L2199.6 820.4 L2199.3 822.4 L2199.1 824.4 L2198.9 826.4 L2198.6 828.4 L2198.4 830.4 L2198.1 832.3 L2197.9 834.3 L2197.7 836.3 L2197.4 838.3 L2197.2 840.3 L2196.9 842.3 L2196.7 844.3 L2196.4 846.2 L2196.1 848.2 L2195.9 850.2 L2195.6 852.2 L2195.3 854.2 L2195.1 856.2 L2194.8 858.1 L2194.5 860.1 L2194.2 862.1 L2193.9 864.1 L2193.6 866.1 L2193.3 868.0 L2193.0 870.0 L2192.7 872.0 L2192.4 874.0 L2192.1 875.9 L2191.8 877.9 L2191.5 879.9 L2191.2 881.9 L2190.9 883.9 L2190.6 885.8 L2190.3 887.8 L2190.0 889.8 L2189.6 891.8 L2189.3 893.7 L2189.0 895.7 L2188.7 897.7 L2188.3 899.7 L2188.0 901.6 L2187.7 903.6 L2187.3 905.6 L2187.0 907.5 L2186.6 909.5 L2186.3 911.5 L2185.9 913.5 L2185.6 915.4 L2185.2 917.4 L2184.8 919.4 L2184.4 921.3 L2184.1 923.3 L2183.7 925.2 L2183.3 927.2 L2182.9 929.2 L2182.5 931.1 L2182.1 933.1 L2181.7 935.1 L2181.3 937.0 L2180.9 939.0 L2180.5 940.9 L2180.1 942.9 L2179.7 944.9 L2179.3 946.8 L2178.9 948.8 L2178.5 950.7 L2178.1 952.7 L2177.7 954.7 L2177.3 956.6 L2176.9 958.6 L2176.5 960.6 L2176.1 962.5 L2175.7 964.5 L2175.3 966.4 L2175.0 968.4 L2174.6 970.4 L2174.2 972.3 L2173.9 974.3 L2173.5 976.3 L2173.1 978.2 L2172.8 980.2 L2172.4 982.2 L2172.1 984.2 L2171.7 986.1 L2171.3 988.1 L2171.0 990.1 L2170.6 992.0 L2170.3 994.0 L2169.9 996.0 L2169.6 997.9 L2169.2 999.9 L2168.8 1001.9 L2168.5 1003.8 L2168.1 1005.8 L2167.7 1007.8 L2167.4 1009.7 L2167.0 1011.7 L2166.6 1013.7 L2166.3 1015.6 L2165.9 1017.6 L2165.5 1019.6 L2165.1 1021.5 L2164.7 1023.5 L2164.3 1025.5 L2163.9 1027.4 L2163.6 1029.4 L2163.2 1031.3 L2162.7 1033.3 L2162.3 1035.3 L2161.9 1037.2 L2161.5 1039.2 L2161.1 1041.1 L2160.7 1043.1 L2160.3 1045.1 L2159.8 1047.0 L2159.4 1049.0 L2159.0 1050.9 L2158.6 1052.9 L2158.2 1054.8 L2157.8 1056.8 L2157.4 1058.8 L2157.0 1060.7 L2156.7 1062.7 L2156.3 1064.7 L2156.0 1066.6 L2155.6 1068.6 L2155.3 1070.6 L2155.0 1072.6 L2154.7 1074.5 L2154.3 1076.5 L2154.0 1078.5 L2153.8 1080.5 L2153.5 1082.4 L2153.2 1084.4 L2152.9 1086.4 L2152.6 1088.4 L2152.3 1090.4 L2152.0 1092.3 L2151.7 1094.3 L2151.4 1096.3 L2151.1 1098.3 L2150.8 1100.2 L2150.4 1102.2 L2150.1 1104.2 L2149.8 1106.2 L2149.5 1108.1 L2149.1 1110.1 L2148.8 1112.1 L2148.4 1114.1 L2148.1 1116.0 L2147.7 1118.0 L2147.3 1120.0 L2147.0 1121.9 L2146.6 1123.9 L2146.2 1125.9 L2145.8 1127.8 L2145.4 1129.8 L2145.1 1131.8 L2144.7 1133.7 L2144.3 1135.7 L2143.9 1137.6 L2143.5 1139.6 L2143.0 1141.6 L2142.6 1143.5 L2142.2 1145.5 L2141.7 1147.4 L2141.3 1149.4 L2140.8 1151.3 L2140.3 1153.2 L2139.8 1155.2 L2139.3 1157.1 L2138.9 1159.1 L2138.4 1161.0 L2137.9 1162.9 L2137.4 1164.9 L2136.9 1166.8 L2136.4 1168.7 L2135.9 1170.7 L2135.5 1172.6 L2135.1 1174.6 L2134.6 1176.5 L2134.3 1178.5 L2133.9 1180.4 L2133.5 1182.4 L2133.2 1184.4 L2132.8 1186.3 L2132.5 1188.3 L2132.1 1190.3 L2131.8 1192.2 L2131.5 1194.2 L2131.1 1196.2 L2130.8 1198.2 L2130.5 1200.1 L2130.1 1202.1 L2129.8 1204.1 L2129.4 1206.0 L2129.0 1208.0 L2128.6 1210.0 L2128.3 1211.9 L2127.9 1213.9 L2127.5 1215.9 L2127.1 1217.8 L2126.7 1219.8 L2126.3 1221.7 L2125.8 1223.7 L2125.4 1225.7 L2125.0 1227.6 L2124.6 1229.6 L2124.1 1231.5 L2123.7 1233.5 L2123.3 1235.4 L2122.9 1237.4 L2122.4 1239.3 L2122.0 1241.3 L2121.6 1243.3 L2121.2 1245.2 L2120.8 1247.2 L2120.4 1249.1 L2120.1 1251.1 L2119.7 1253.1 L2119.3 1255.0 L2119.0 1257.0 L2118.6 1259.0 L2118.3 1261.0 L2118.0 1262.9 L2117.6 1264.9 L2117.3 1266.9 L2116.9 1268.8 L2116.5 1270.8 L2116.2 1272.8 L2115.8 1274.7 L2115.4 1276.7 L2115.0 1278.6 L2114.5 1280.6 L2114.1 1282.5 L2113.6 1284.5 L2113.1 1286.4 L2112.6 1288.3 L2112.1 1290.3 L2111.6 1292.2 L2111.0 1294.1 L2110.4 1296.0 L2109.9 1298.0" fill="none" stroke="#00ff00" stroke-width="8.33" stroke-dasharray="41 23" stroke-linejoin="round"/>
<path d="M2116.6 1270 L2113.5 1284 L2110 1298" fill="none" stroke="#00ff00" stroke-width="8" stroke-linecap="butt"/>
<path d="M2209.8 535.3 L2209.4 537.2 L2209.0 539.2 L2208.7 541.2 L2208.3 543.1 L2208.0 545.1 L2207.7 547.1 L2207.3 549.1 L2207.0 551.0 L2206.7 553.0 L2206.4 555.0 L2206.1 557.0 L2205.8 558.9 L2205.6 560.9 L2205.3 562.9 L2205.1 564.9 L2204.8 566.9 L2204.4 568.8 L2204.0 570.8 L2203.6 572.8 L2203.2 574.7 L2202.8 576.7 L2202.4 578.6 L2202.1 580.6 L2201.8 582.6 L2201.5 584.6 L2201.2 586.5 L2200.9 588.5 L2200.6 590.5" fill="none" stroke="#0000ff" stroke-width="9.3" stroke-linecap="round"/>
<path d="M2206.1 557.0 L2205.8 558.9 L2205.6 560.9 L2205.3 562.9 L2205.1 564.9 L2204.8 566.9 L2204.4 568.8 L2204.0 570.8 L2203.6 572.8 L2203.2 574.7 L2202.8 576.7 L2202.4 578.6 L2202.1 580.6 L2201.8 582.6 L2201.5 584.6 L2201.2 586.5 L2200.9 588.5 L2200.6 590.5" fill="none" stroke="#0000ff" stroke-width="10.6" stroke-linecap="round"/>
<path d="M2204.0 570.8 L2203.6 572.8 L2203.2 574.7 L2202.8 576.7 L2202.4 578.6 L2202.1 580.6 L2201.8 582.6 L2201.5 584.6 L2201.2 586.5 L2200.9 588.5 L2200.6 590.5" fill="none" stroke="#0000ff" stroke-width="12" stroke-linecap="round"/>
<path d="M2202.1 580.6 L2201.8 582.6 L2201.5 584.6 L2201.2 586.5 L2200.9 588.5 L2200.6 590.5" fill="none" stroke="#0000ff" stroke-width="13.2" stroke-linecap="round"/>
<path d="M227.0 608.5 L229.0 608.5 L231.0 608.6 L233.0 608.6 L235.0 608.6 L237.0 608.6 L239.0 608.7 L241.0 608.7 L243.0 608.7 L245.0 608.7 L247.0 608.8 L249.0 608.8 L251.0 608.8 L253.0 608.8 L255.0 608.9 L257.0 608.9 L259.0 608.9 L261.0 609.0 L263.0 609.0 L265.0 609.0 L267.0 609.0 L269.0 609.1 L271.0 609.1 L273.0 609.1 L275.0 609.2 L277.0 609.2 L279.0 609.2 L281.0 609.3 L283.0 609.3 L285.0 609.4 L287.0 609.4 L289.0 609.4 L291.0 609.5 L293.0 609.5 L295.0 609.5 L297.0 609.6 L299.0 609.6 L301.0 609.6 L303.0 609.7 L305.0 609.7 L307.0 609.8 L309.0 609.8 L311.0 609.8 L313.0 609.9 L315.0 609.9 L317.0 610.0 L319.0 610.0 L321.0 610.0 L323.0 610.1 L325.0 610.1 L327.0 610.2 L329.0 610.2 L331.0 610.3 L333.0 610.3 L335.0 610.4 L337.0 610.4 L339.0 610.4 L341.0 610.5 L343.0 610.5 L345.0 610.6 L347.0 610.6 L349.0 610.7 L351.0 610.7 L353.0 610.8 L355.0 610.8 L357.0 610.9 L359.0 610.9 L361.0 611.0 L363.1 611.0 L365.1 611.1 L367.1 611.1 L369.1 611.2 L371.1 611.2 L373.1 611.3 L375.1 611.3 L377.1 611.4 L379.1 611.4 L381.1 611.5 L383.1 611.5 L385.1 611.6 L387.1 611.6 L389.1 611.7 L391.1 611.7 L393.1 611.8 L395.1 611.8 L397.1 611.9 L399.1 611.9 L401.1 612.0 L403.1 612.1 L405.1 612.1 L407.1 612.2 L409.1 612.2 L411.1 612.3 L413.1 612.3 L415.1 612.4 L417.1 612.4 L419.1 612.5 L421.1 612.6 L423.1 612.6 L425.1 612.7 L427.1 612.7 L429.1 612.8 L431.1 612.8 L433.1 612.9 L435.1 613.0 L437.1 613.0 L439.1 613.1 L441.1 613.1 L443.1 613.2 L445.1 613.3 L447.1 613.3 L449.1 613.4 L451.1 613.4 L453.1 613.5 L455.0 613.6 L457.0 613.6 L459.0 613.7 L461.0 613.7 L463.0 613.8 L465.0 613.9 L467.0 613.9 L469.0 614.0 L471.0 614.0 L473.0 614.1 L475.0 614.2 L477.0 614.2 L479.0 614.3 L481.0 614.4 L483.0 614.4 L485.0 614.5 L487.0 614.5 L489.0 614.6 L491.0 614.7 L493.0 614.7 L495.0 614.8 L497.0 614.9 L499.0 614.9 L501.0 615.0 L503.0 615.1 L505.0 615.1 L507.0 615.2 L509.0 615.3 L511.0 615.3 L513.0 615.4 L515.0 615.4 L517.0 615.5 L519.0 615.6 L521.0 615.6 L523.0 615.7 L525.0 615.8 L527.0 615.9 L529.0 615.9 L531.0 616.0 L533.0 616.1 L535.0 616.1 L537.0 616.2 L539.0 616.3 L541.0 616.3 L543.0 616.4 L545.0 616.5 L547.0 616.6 L549.0 616.6 L551.0 616.7 L553.0 616.8 L555.0 616.9 L557.0 616.9 L559.0 617.0 L561.0 617.1 L563.0 617.2 L565.0 617.3 L567.0 617.3 L569.0 617.4 L571.0 617.5 L573.0 617.6 L575.0 617.7 L577.0 617.7 L579.0 617.8 L581.0 617.9 L583.0 618.0 L585.0 618.1 L587.0 618.2 L589.0 618.3 L591.0 618.3 L593.0 618.4 L595.0 618.5 L597.0 618.6 L599.0 618.7 L601.0 618.8 L603.0 618.9 L605.0 619.0 L607.0 619.1 L609.0 619.2 L611.0 619.2 L613.0 619.3 L615.0 619.4 L617.0 619.5 L619.0 619.6 L621.0 619.7 L623.0 619.8 L625.0 619.9 L627.0 620.0 L629.0 620.1 L631.0 620.2 L633.0 620.3 L635.0 620.4 L637.0 620.5 L639.0 620.6 L641.0 620.7 L643.0 620.8 L645.0 620.9 L647.0 621.0 L649.0 621.1 L651.0 621.2 L653.0 621.3 L655.0 621.4 L657.0 621.5 L659.0 621.6 L661.0 621.7 L663.0 621.8 L665.0 621.9 L666.9 622.0 L668.9 622.1 L670.9 622.2 L672.9 622.3 L674.9 622.5 L676.9 622.6 L678.9 622.7 L680.9 622.8 L682.9 622.9 L684.9 623.0 L686.9 623.1 L688.9 623.2 L690.9 623.3 L692.9 623.4 L694.9 623.5 L696.9 623.6 L698.9 623.7 L700.9 623.9 L702.9 624.0 L704.9 624.1 L706.9 624.2 L708.9 624.3 L710.9 624.4 L712.9 624.5 L714.9 624.6 L716.9 624.7 L718.9 624.9 L720.9 625.0 L722.9 625.1 L724.9 625.2 L726.9 625.3 L728.9 625.4 L730.9 625.5 L732.9 625.6 L734.9 625.8 L736.9 625.9 L738.9 626.0 L740.9 626.1 L742.9 626.2 L744.9 626.3 L746.9 626.4 L748.9 626.6 L750.9 626.7 L752.9 626.8 L754.9 626.9 L756.9 627.0 L758.9 627.1 L760.9 627.2 L762.9 627.4 L764.8 627.5 L766.8 627.6 L768.8 627.7 L770.8 627.8 L772.8 627.9 L774.8 628.0 L776.8 628.2 L778.8 628.3 L780.8 628.4 L782.8 628.5 L784.8 628.6 L786.8 628.7 L788.8 628.9 L790.8 629.0 L792.8 629.1 L794.8 629.2 L796.8 629.3 L798.8 629.4 L800.8 629.5 L802.8 629.7 L804.8 629.8 L806.8 629.9 L808.8 630.0 L810.8 630.1 L812.8 630.3 L814.8 630.4 L816.8 630.5 L818.8 630.6 L820.8 630.7 L822.8 630.8 L824.8 631.0 L826.8 631.1 L828.8 631.2 L830.8 631.3 L832.8 631.4 L834.8 631.6 L836.7 631.7 L838.7 631.8 L840.7 631.9 L842.7 632.1 L844.7 632.2 L846.7 632.3 L848.7 632.4 L850.7 632.6 L852.7 632.7 L854.7 632.8 L856.7 632.9 L858.7 633.1 L860.7 633.2 L862.7 633.3 L864.7 633.4 L866.7 633.6 L868.7 633.7 L870.7 633.8 L872.7 633.9 L874.7 634.1 L876.7 634.2 L878.7 634.3 L880.7 634.5 L882.7 634.6 L884.7 634.7 L886.7 634.8 L888.7 635.0 L890.7 635.1 L892.7 635.2 L894.7 635.4 L896.7 635.5 L898.6 635.6 L900.6 635.8 L902.6 635.9 L904.6 636.0 L906.6 636.2 L908.6 636.3 L910.6 636.4 L912.6 636.6 L914.6 636.7 L916.6 636.8 L918.6 637.0 L920.6 637.1 L922.6 637.2 L924.6 637.4 L926.6 637.5 L928.6 637.6 L930.6 637.8 L932.6 637.9 L934.6 638.1 L936.6 638.2 L938.6 638.3 L940.6 638.5 L942.6 638.6 L944.6 638.7 L946.6 638.9 L948.6 639.0 L950.6 639.2 L952.6 639.3 L954.5 639.4 L956.5 639.6 L958.5 639.7 L960.5 639.9 L962.5 640.0 L964.5 640.1 L966.5 640.3 L968.5 640.4 L970.5 640.6 L972.5 640.7 L974.5 640.9 L976.5 641.0 L978.5 641.1 L980.5 641.3 L982.5 641.4 L984.5 641.6 L986.5 641.7 L988.5 641.9 L990.5 642.0 L992.5 642.2 L994.5 642.3 L996.5 642.4 L998.5 642.6 L1000.5 642.7 L1002.4 642.9 L1004.4 643.0 L1006.4 643.2 L1008.4 643.3 L1010.4 643.5 L1012.4 643.6 L1014.4 643.8 L1016.4 643.9 L1018.4 644.1 L1020.4 644.2 L1022.4 644.4 L1024.4 644.5 L1026.4 644.7 L1028.4 644.8 L1030.4 645.0 L1032.4 645.1 L1034.4 645.3 L1036.4 645.4 L1038.4 645.6 L1040.4 645.7 L1042.4 645.9 L1044.4 646.0 L1046.3 646.2 L1048.3 646.3 L1050.3 646.5 L1052.3 646.6 L1054.3 646.8 L1056.3 646.9 L1058.3 647.1 L1060.3 647.2 L1062.3 647.4 L1064.3 647.5 L1066.3 647.7 L1068.3 647.8 L1070.3 648.0 L1072.3 648.1 L1074.3 648.3 L1076.3 648.5 L1078.3 648.6 L1080.3 648.8 L1082.3 648.9 L1084.2 649.1 L1086.2 649.2 L1088.2 649.4 L1090.2 649.5 L1092.2 649.7 L1094.2 649.8 L1096.2 650.0 L1098.2 650.2 L1100.2 650.3 L1102.2 650.5 L1104.2 650.6 L1106.2 650.8 L1108.2 650.9 L1110.2 651.1 L1112.2 651.3 L1114.2 651.4 L1116.2 651.6 L1118.2 651.7 L1120.1 651.9 L1122.1 652.1 L1124.1 652.2 L1126.1 652.4 L1128.1 652.5 L1130.1 652.7 L1132.1 652.8 L1134.1 653.0 L1136.1 653.2 L1138.1 653.3 L1140.1 653.5 L1142.1 653.6 L1144.1 653.8 L1146.1 654.0 L1148.1 654.1 L1150.1 654.3 L1152.1 654.4 L1154.1 654.6 L1156.1 654.8 L1158.0 654.9 L1160.0 655.1 L1162.0 655.3 L1164.0 655.4 L1166.0 655.6 L1168.0 655.7 L1170.0 655.9 L1172.0 656.1 L1174.0 656.2 L1176.0 656.4 L1178.0 656.6 L1180.0 656.7 L1182.0 656.9 L1184.0 657.1 L1186.0 657.2 L1188.0 657.4 L1190.0 657.6 L1192.0 657.7 L1194.0 657.9 L1195.9 658.1 L1197.9 658.2 L1199.9 658.4 L1201.9 658.6 L1203.9 658.7 L1205.9 658.9 L1207.9 659.1 L1209.9 659.2 L1211.9 659.4 L1213.9 659.6 L1215.9 659.7 L1217.9 659.9 L1219.9 660.1 L1221.9 660.3 L1223.9 660.4 L1225.9 660.6 L1227.9 660.8 L1229.8 661.0 L1231.8 661.1 L1233.8 661.3 L1235.8 661.5 L1237.8 661.6 L1239.8 661.8 L1241.8 662.0 L1243.8 662.2 L1245.8 662.3 L1247.8 662.5 L1249.8 662.7 L1251.8 662.9 L1253.8 663.1 L1255.8 663.2 L1257.8 663.4 L1259.8 663.6 L1261.7 663.8 L1263.7 664.0 L1265.7 664.1 L1267.7 664.3 L1269.7 664.5 L1271.7 664.7 L1273.7 664.9 L1275.7 665.0 L1277.7 665.2 L1279.7 665.4 L1281.7 665.6 L1283.7 665.8 L1285.7 666.0 L1287.7 666.1 L1289.6 666.3 L1291.6 666.5 L1293.6 666.7 L1295.6 666.9 L1297.6 667.1 L1299.6 667.3 L1301.6 667.5 L1303.6 667.6 L1305.6 667.8 L1307.6 668.0 L1309.6 668.2 L1311.6 668.4 L1313.6 668.6 L1315.5 668.8 L1317.5 669.0 L1319.5 669.2 L1321.5 669.4 L1323.5 669.6 L1325.5 669.8 L1327.5 670.0 L1329.5 670.2 L1331.5 670.4 L1333.5 670.5 L1335.5 670.7 L1337.4 670.9 L1339.4 671.1 L1341.4 671.3 L1343.4 671.5 L1345.4 671.7 L1347.4 671.9 L1349.4 672.2 L1351.4 672.4 L1353.4 672.6 L1355.4 672.8 L1357.3 673.0 L1359.3 673.2 L1361.3 673.4 L1363.3 673.6 L1365.3 673.8 L1367.3 674.0 L1369.3 674.2 L1371.3 674.4 L1373.3 674.6 L1375.2 674.8 L1377.2 675.0 L1379.2 675.3 L1381.2 675.5 L1383.2 675.7 L1385.2 675.9 L1387.2 676.1 L1389.2 676.3 L1391.2 676.5 L1393.1 676.8 L1395.1 677.0 L1397.1 677.2 L1399.1 677.4 L1401.1 677.6 L1403.1 677.9 L1405.1 678.1 L1407.0 678.3 L1409.0 678.5 L1411.0 678.8 L1413.0 679.0 L1415.0 679.2 L1417.0 679.4 L1419.0 679.7 L1421.0 679.9 L1422.9 680.1 L1424.9 680.4 L1426.9 680.6 L1428.9 680.9 L1430.9 681.1 L1432.9 681.3 L1434.9 681.6 L1436.8 681.8 L1438.8 682.1 L1440.8 682.3 L1442.8 682.6 L1444.8 682.8 L1446.8 683.1 L1448.7 683.3 L1450.7 683.6 L1452.7 683.8 L1454.7 684.1 L1456.7 684.3 L1458.7 684.6 L1460.7 684.8 L1462.6 685.1 L1464.6 685.3 L1466.6 685.6 L1468.6 685.9 L1470.6 686.1 L1472.6 686.4 L1474.5 686.7 L1476.5 686.9 L1478.5 687.2 L1480.5 687.5 L1482.5 687.7 L1484.5 688.0 L1486.4 688.3 L1488.4 688.5 L1490.4 688.8 L1492.4 689.1 L1494.4 689.3 L1496.3 689.6 L1498.3 689.9 L1500.3 690.2 L1502.3 690.4 L1504.3 690.7 L1506.3 691.0 L1508.2 691.3 L1510.2 691.6 L1512.2 691.8 L1514.2 692.1 L1516.2 692.4 L1518.1 692.7 L1520.1 693.0 L1522.1 693.2 L1524.1 693.5 L1526.1 693.8 L1528.1 694.1 L1530.0 694.4 L1532.0 694.7 L1534.0 694.9 L1536.0 695.2 L1538.0 695.5 L1539.9 695.8 L1541.9 696.1 L1543.9 696.4 L1545.9 696.7 L1547.9 697.0 L1549.8 697.2 L1551.8 697.5 L1553.8 697.8 L1555.8 698.1 L1557.8 698.4 L1559.7 698.7 L1561.7 699.0 L1563.7 699.3 L1565.7 699.6 L1567.7 699.9 L1569.7 700.2 L1571.6 700.4 L1573.6 700.7 L1575.6 701.0 L1577.6 701.3 L1579.6 701.6 L1581.5 701.9 L1583.5 702.2 L1585.5 702.5 L1587.5 702.8 L1589.4 703.1 L1591.4 703.4 L1593.4 703.7 L1595.4 704.0 L1597.4 704.3 L1599.3 704.6 L1601.3 704.9 L1603.3 705.1 L1605.3 705.4 L1607.3 705.7 L1609.2 706.0 L1611.2 706.3 L1613.2 706.6 L1615.2 706.9 L1617.2 707.2 L1619.1 707.5 L1621.1 707.8 L1623.1 708.1 L1625.1 708.4 L1627.1 708.7 L1629.0 709.0 L1631.0 709.3 L1633.0 709.6 L1635.0 709.9 L1637.0 710.1 L1638.9 710.4 L1640.9 710.7 L1642.9 711.0 L1644.9 711.3 L1646.9 711.6 L1648.8 711.9 L1650.8 712.2 L1652.8 712.5 L1654.8 712.8 L1656.8 713.1 L1658.7 713.4 L1660.7 713.7 L1662.7 714.0 L1664.7 714.2 L1666.6 714.5 L1668.6 714.8 L1670.6 715.1 L1672.6 715.4 L1674.6 715.7 L1676.5 716.0 L1678.5 716.3 L1680.5 716.6 L1682.5 716.9 L1684.5 717.2 L1686.4 717.5 L1688.4 717.8 L1690.4 718.2 L1692.4 718.5 L1694.3 718.8 L1696.3 719.1 L1698.3 719.4 L1700.3 719.7 L1702.3 720.0 L1704.2 720.3 L1706.2 720.7 L1708.2 721.0 L1710.1 721.3 L1712.1 721.6 L1714.1 722.0 L1716.1 722.3 L1718.0 722.6 L1720.0 723.0 L1722.0 723.3 L1724.0 723.6 L1725.9 724.0 L1727.9 724.3 L1729.9 724.7 L1731.8 725.0 L1733.8 725.4 L1735.8 725.7 L1737.7 726.1 L1739.7 726.4 L1741.7 726.8 L1743.6 727.2 L1745.6 727.5 L1747.6 727.9 L1749.5 728.2 L1751.5 728.6 L1753.5 729.0 L1755.5 729.3 L1757.4 729.7 L1759.4 730.1 L1761.4 730.5 L1763.3 730.8 L1765.3 731.2 L1767.3 731.6 L1769.2 732.0 L1771.2 732.4 L1773.1 732.8 L1775.1 733.2 L1777.1 733.5 L1779.0 733.9 L1781.0 734.3 L1783.0 734.7 L1784.9 735.1 L1786.9 735.5 L1788.9 735.9 L1790.8 736.3 L1792.8 736.7 L1794.7 737.1 L1796.7 737.6 L1798.7 738.0 L1800.6 738.4 L1802.6 738.8 L1804.5 739.2 L1806.5 739.6 L1808.4 740.1 L1810.4 740.5 L1812.4 740.9 L1814.3 741.4 L1816.3 741.8 L1818.2 742.2 L1820.2 742.7 L1822.1 743.1 L1824.1 743.5 L1826.0 744.0 L1828.0 744.4 L1829.9 744.9 L1831.9 745.3 L1833.8 745.8 L1835.8 746.2 L1837.7 746.7 L1839.7 747.1 L1841.6 747.6 L1843.5 748.1 L1845.5 748.5 L1847.4 749.0 L1849.4 749.5 L1851.3 750.0 L1853.2 750.4 L1855.2 750.9 L1857.1 751.4 L1859.1 751.9 L1861.0 752.4 L1862.9 752.9 L1864.9 753.4 L1866.8 753.9 L1868.7 754.4 L1870.7 754.9 L1872.6 755.5 L1874.5 756.0 L1876.5 756.5 L1878.4 757.0 L1880.3 757.6 L1882.2 758.1 L1884.2 758.6 L1886.1 759.2 L1888.0 759.7 L1890.0 760.3 L1891.9 760.8 L1893.8 761.4 L1895.7 761.9 L1897.6 762.5 L1899.6 763.1 L1901.5 763.6 L1903.4 764.2 L1905.3 764.8 L1907.2 765.3 L1909.2 765.9 L1911.1 766.5 L1913.0 767.1 L1914.9 767.7 L1916.8 768.2 L1918.7 768.8 L1920.7 769.4 L1922.6 770.0 L1924.5 770.6 L1926.4 771.2 L1928.3 771.8 L1930.2 772.4 L1932.1 773.0 L1934.0 773.6 L1935.9 774.2 L1937.9 774.8 L1939.8 775.4 L1941.7 776.0 L1943.6 776.6 L1945.5 777.2 L1947.4 777.8 L1949.3 778.4 L1951.2 779.1 L1953.1 779.7 L1955.0 780.3 L1956.9 780.9 L1958.8 781.5 L1960.7 782.1 L1962.6 782.8 L1964.5 783.4 L1966.4 784.0 L1968.3 784.6 L1970.2 785.3 L1972.1 785.9 L1974.1 786.6 L1975.9 787.2 L1977.8 787.9 L1979.7 788.5 L1981.6 789.2 L1983.5 789.8 L1985.4 790.5 L1987.3 791.2 L1989.2 791.8 L1991.1 792.5 L1993.0 793.2 L1994.8 793.9 L1996.7 794.6 L1998.6 795.3 L2000.5 796.0 L2002.3 796.7 L2004.2 797.4 L2006.0 798.2 L2007.9 798.9 L2009.7 799.6 L2011.6 800.4 L2013.4 801.2 L2015.3 801.9 L2017.1 802.7 L2018.9 803.5 L2020.8 804.3 L2022.6 805.1 L2024.4 805.9 L2026.2 806.7 L2028.0 807.6 L2029.8 808.4 L2031.6 809.3 L2033.5 810.2 L2035.2 811.0 L2037.0 811.9 L2038.8 812.8 L2040.6 813.7 L2042.4 814.6 L2044.2 815.5 L2046.0 816.4 L2047.8 817.4 L2049.5 818.3 L2051.3 819.3 L2053.1 820.2 L2054.8 821.2 L2056.6 822.1 L2058.3 823.1 L2060.1 824.0 L2061.9 825.0 L2063.6 826.0 L2065.4 827.0 L2067.1 827.9 L2068.8 828.9 L2070.6 829.9 L2072.3 830.9 L2074.1 831.9 L2075.8 832.9 L2077.5 833.9 L2079.3 834.9 L2081.0 836.0 L2082.7 837.0 L2084.4 838.0 L2086.1 839.1 L2087.8 840.1 L2089.5 841.2 L2091.2 842.2 L2092.9 843.3 L2094.6 844.4 L2096.3 845.5 L2098.0 846.5 L2099.7 847.7 L2101.3 848.8 L2103.0 849.9 L2104.6 851.0 L2106.2 852.2 L2107.9 853.3 L2109.5 854.5 L2111.1 855.7 L2112.7 856.9 L2114.3 858.1 L2115.9 859.3 L2117.4 860.6 L2119.0 861.8 L2120.5 863.1 L2122.1 864.3 L2123.6 865.6 L2125.1 866.9 L2126.6 868.3 L2128.1 869.6 L2129.6 870.9 L2131.1 872.3 L2132.6 873.6 L2134.0 875.0 L2135.5 876.4 L2136.9 877.8 L2138.3 879.2 L2139.7 880.6 L2141.1 882.1 L2142.5 883.5 L2143.8 885.0 L2145.2 886.5 L2146.5 887.9 L2147.8 889.4 L2149.2 891.0 L2150.4 892.5 L2151.7 894.0 L2153.0 895.6 L2154.2 897.1 L2155.5 898.7 L2156.7 900.3 L2157.9 901.9 L2159.1 903.5 L2160.2 905.2 L2161.4 906.8 L2162.5 908.4 L2163.6 910.1 L2164.7 911.8 L2165.8 913.5 L2166.8 915.2 L2167.8 916.9 L2168.9 918.6 L2169.9 920.3 L2170.8 922.1 L2171.8 923.8 L2172.7 925.6 L2173.7 927.4 L2174.6 929.1 L2175.5 930.9 L2176.3 932.7 L2177.2 934.5 L2178.0 936.4 L2178.8 938.2 L2179.6 940.0 L2180.3 941.9 L2181.1 943.7 L2181.8 945.6 L2182.5 947.5 L2183.2 949.3 L2183.9 951.2 L2184.5 953.1 L2185.1 955.0 L2185.7 956.9 L2186.3 958.8 L2186.9 960.8 L2187.4 962.7 L2187.9 964.6 L2188.4 966.6 L2188.9 968.5 L2189.4 970.4 L2189.8 972.4 L2190.2 974.3 L2190.6 976.3 L2191.0 978.3 L2191.3 980.2 L2191.7 982.2 L2192.0 984.2 L2192.3 986.1 L2192.6 988.1 L2192.9 990.1 L2193.1 992.1 L2193.4 994.1 L2193.6 996.1 L2193.8 998.1 L2194.0 1000.0 L2194.1 1002.0 L2194.3 1004.0 L2194.5 1006.0 L2194.6 1008.0 L2194.7 1010.0 L2194.8 1012.0 L2194.9 1014.0 L2195.0 1016.0 L2195.1 1018.0 L2195.1 1020.0 L2195.2 1022.0 L2195.2 1024.0 L2195.2 1026.0 L2195.2 1028.0 L2195.2 1030.0 L2195.2 1032.0 L2195.2 1034.0 L2195.2 1036.0 L2195.2 1038.0 L2195.1 1040.0 L2195.1 1042.0 L2195.0 1044.0 L2195.0 1046.0 L2194.9 1048.0 L2194.8 1050.0 L2194.7 1052.0 L2194.6 1054.0 L2194.5 1056.0 L2194.4 1058.0 L2194.3 1060.0 L2194.1 1062.0 L2194.0 1064.0 L2193.8 1066.0 L2193.7 1068.0 L2193.5 1070.0 L2193.3 1071.9 L2193.1 1073.9 L2192.8 1075.9 L2192.6 1077.9 L2192.4 1079.9 L2192.1 1081.9 L2191.9 1083.9 L2191.7 1085.9 L2191.4 1087.8 L2191.1 1089.8 L2190.9 1091.8 L2190.6 1093.8 L2190.3 1095.8 L2190.1 1097.8 L2189.8 1099.7 L2189.5 1101.7 L2189.2 1103.7 L2188.9 1105.7 L2188.6 1107.7 L2188.3 1109.6 L2187.9 1111.6 L2187.6 1113.6 L2187.3 1115.6 L2187.0 1117.5 L2186.6 1119.5 L2186.3 1121.5 L2185.9 1123.4 L2185.6 1125.4 L2185.2 1127.4 L2184.9 1129.3 L2184.5 1131.3 L2184.2 1133.3 L2183.8 1135.3 L2183.5 1137.2 L2183.1 1139.2 L2182.7 1141.2 L2182.4 1143.1 L2182.0 1145.1 L2181.7 1147.1 L2181.3 1149.0 L2180.9 1151.0 L2180.6 1153.0 L2180.2 1154.9 L2179.8 1156.9 L2179.4 1158.9 L2179.1 1160.8 L2178.7 1162.8 L2178.3 1164.8 L2177.9 1166.7 L2177.5 1168.7 L2177.1 1170.6 L2176.7 1172.6 L2176.2 1174.5 L2175.8 1176.5 L2175.4 1178.5 L2175.0 1180.4 L2174.5 1182.4 L2174.1 1184.3 L2173.6 1186.3 L2173.2 1188.2 L2172.7 1190.1 L2172.2 1192.1 L2171.8 1194.0 L2171.3 1196.0 L2170.9 1197.9 L2170.4 1199.9 L2169.9 1201.8 L2169.5 1203.8 L2169.0 1205.7 L2168.6 1207.7 L2168.1 1209.6 L2167.7 1211.6 L2167.2 1213.5 L2166.8 1215.5 L2166.4 1217.4 L2165.9 1219.4 L2165.5 1221.3 L2165.1 1223.3 L2164.7 1225.3 L2164.2 1227.2 L2163.8 1229.2 L2163.4 1231.1 L2163.0 1233.1 L2162.6 1235.0 L2162.2 1237.0 L2161.8 1239.0 L2161.4 1240.9 L2160.9 1242.9 L2160.5 1244.8 L2160.1 1246.8 L2159.7 1248.8 L2159.3 1250.7 L2159.0 1252.7 L2158.6 1254.6 L2158.2 1256.6 L2157.8 1258.6 L2157.4 1260.5 L2157.0 1262.5 L2156.6 1264.5 L2156.3 1266.4 L2155.9 1268.4 L2155.5 1270.4 L2155.1 1272.3 L2154.8 1274.3 L2154.4 1276.3 L2154.0 1278.2 L2153.7 1280.2 L2153.3 1282.2 L2152.9 1284.1 L2152.6 1286.1 L2152.2 1288.1 L2151.8 1290.0 L2151.4 1292.0 L2151.1 1294.0 L2150.7 1295.9 L2150.3 1297.9 L2149.9 1299.8 L2149.5 1301.8 L2149.1 1303.8 L2148.7 1305.7 L2148.3 1307.7 L2147.9 1309.6 L2147.4 1311.6 L2147.0 1313.5 L2146.6 1315.5 L2146.1 1317.4 L2145.7 1319.4 L2145.2 1321.3 L2144.7 1323.3 L2144.3 1325.2 L2143.8 1327.2 L2143.3 1329.1 L2142.8 1331.0 L2142.3 1333.0 L2141.8 1334.9 L2141.3 1336.9 L2140.8 1338.8 L2140.3 1340.7 L2139.8 1342.7 L2139.3 1344.6 L2138.8 1346.5 L2138.2 1348.5 L2137.7 1350.4 L2137.2 1352.3 L2136.7 1354.3 L2136.1 1356.2 L2135.6 1358.1 L2135.1 1360.0 L2134.6 1362.0 L2134.0 1363.9 L2133.5 1365.8 L2133.0 1367.8 L2132.4 1369.7 L2131.9 1371.6 L2131.3 1373.5 L2130.8 1375.5 L2130.3 1377.4 L2129.7 1379.3 L2129.2 1381.3 L2128.6 1383.2 L2128.1 1385.1 L2127.5 1387.0 L2127.0 1388.9 L2126.4 1390.9 L2125.9 1392.8 L2125.3 1394.7 L2124.7 1396.6 L2124.2 1398.6 L2123.6 1400.5 L2123.1 1402.4 L2122.5 1404.3 L2122.0 1406.3 L2121.4 1408.2 L2120.9 1410.1 L2120.3 1412.0 L2119.8 1414.0 L2119.3 1415.9 L2118.8 1417.8 L2118.2 1419.7 L2117.7 1421.7 L2117.2 1423.6 L2116.7 1425.6 L2116.2 1427.5 L2115.7 1429.4 L2115.2 1431.4 L2114.8 1433.3 L2114.3 1435.3 L2113.8 1437.2 L2113.4 1439.1 L2112.9 1441.1 L2112.4 1443.0 L2112.0 1445.0 L2111.5 1446.9 L2111.0 1448.9 L2110.6 1450.8 L2110.1 1452.8 L2109.6 1454.7 L2109.2 1456.7 L2108.7 1458.6 L2108.2 1460.5 L2107.7 1462.5 L2107.2 1464.4 L2106.7 1466.3 L2106.1 1468.3 L2105.6 1470.2 L2105.0 1472.1 L2104.5 1474.0 L2103.9 1475.9 L2103.3 1477.9 L2102.7 1479.8 L2102.1 1481.7 L2101.6 1483.6 L2101.0 1485.5 L2100.4 1487.4 L2099.8 1489.3 L2099.2 1491.2 L2098.6 1493.1 L2098.0 1495.1 L2097.4 1497.0 L2096.8 1498.9 L2096.3 1500.8 L2095.7 1502.7 L2095.2 1504.7 L2094.6 1506.6 L2094.1 1508.5 L2093.6 1510.4 L2093.1 1512.4 L2092.6 1514.3 L2092.1 1516.3 L2091.7 1518.2 L2091.2 1520.1 L2090.7 1522.1 L2090.3 1524.0 L2089.8 1526.0 L2089.4 1527.9 L2088.9 1529.9 L2088.4 1531.8 L2088.0 1533.8 L2087.5 1535.7 L2087.0 1537.7 L2086.5 1539.6 L2086.1 1541.5 L2085.6 1543.5 L2085.1 1545.4 L2084.5 1547.3 L2084.0 1549.3 L2083.5 1551.2 L2082.9 1553.1 L2082.4 1555.1 L2081.8 1557.0 L2081.2 1558.9 L2080.7 1560.8 L2080.1 1562.7 L2079.5 1564.6 L2078.9 1566.5 L2078.3 1568.4 L2077.7 1570.4 L2077.1 1572.3 L2076.5 1574.2 L2075.9 1576.1 L2075.2 1578.0 L2074.6 1579.9 L2074.0 1581.8 L2073.4 1583.7 L2072.8 1585.6 L2072.1 1587.5 L2071.5 1589.4 L2070.9 1591.3 L2070.2 1593.2 L2069.6 1595.1 L2069.0 1597.0 L2068.3 1598.9 L2067.7 1600.8 L2067.1 1602.7 L2066.5 1604.6 L2065.8 1606.5 L2065.2 1608.4 L2064.6 1610.3 L2064.0 1612.2 L2063.4 1614.1 L2062.8 1616.0 L2062.1 1617.9 L2061.5 1619.8 L2060.9 1621.7 L2060.3 1623.6 L2059.7 1625.5 L2059.1 1627.4 L2058.4 1629.3 L2057.8 1631.2 L2057.2 1633.1 L2056.5 1635.0 L2055.8 1636.9 L2055.2 1638.8 L2054.5 1640.7 L2053.8 1642.5 L2053.1 1644.4 L2052.4 1646.3 L2051.7 1648.1 L2051.0 1650.0 L2050.3 1651.9 L2049.5 1653.7 L2048.8 1655.6 L2048.0 1657.5 L2047.3 1659.3 L2046.6 1661.2 L2045.8 1663.0 L2045.1 1664.9 L2044.3 1666.8 L2043.6 1668.6 L2042.9 1670.5 L2042.1 1672.3 L2041.4 1674.2 L2040.7 1676.1 L2040.0 1677.9 L2039.2 1679.8 L2038.5 1681.7 L2037.8 1683.5 L2037.1 1685.4 L2036.4 1687.3 L2035.7 1689.2 L2035.0 1691.0 L2034.3 1692.9 L2033.7 1694.8 L2033.0 1696.7 L2032.3 1698.6 L2031.7 1700.5 L2031.0 1702.3 L2030.3 1704.2 L2029.7 1706.1 L2029.0 1708.0" fill="none" stroke="#ff0000" stroke-width="8.33" stroke-linejoin="round"/>
<path d="M2102.1 1481.7 L2101.6 1483.6 L2101.0 1485.5 L2100.4 1487.4 L2099.8 1489.3 L2099.2 1491.2 L2098.6 1493.1 L2098.0 1495.1 L2097.4 1497.0 L2096.8 1498.9 L2096.3 1500.8 L2095.7 1502.7 L2095.2 1504.7 L2094.6 1506.6 L2094.1 1508.5 L2093.6 1510.4 L2093.1 1512.4 L2092.6 1514.3 L2092.1 1516.3 L2091.7 1518.2 L2091.2 1520.1 L2090.7 1522.1 L2090.3 1524.0 L2089.8 1526.0 L2089.4 1527.9 L2088.9 1529.9 L2088.4 1531.8 L2088.0 1533.8 L2087.5 1535.7 L2087.0 1537.7 L2086.5 1539.6 L2086.1 1541.5 L2085.6 1543.5 L2085.1 1545.4 L2084.5 1547.3 L2084.0 1549.3 L2083.5 1551.2 L2082.9 1553.1 L2082.4 1555.1 L2081.8 1557.0 L2081.2 1558.9 L2080.7 1560.8 L2080.1 1562.7 L2079.5 1564.6 L2078.9 1566.5 L2078.3 1568.4 L2077.7 1570.4 L2077.1 1572.3 L2076.5 1574.2 L2075.9 1576.1 L2075.2 1578.0 L2074.6 1579.9 L2074.0 1581.8 L2073.4 1583.7 L2072.8 1585.6 L2072.1 1587.5 L2071.5 1589.4 L2070.9 1591.3 L2070.2 1593.2 L2069.6 1595.1 L2069.0 1597.0 L2068.3 1598.9 L2067.7 1600.8 L2067.1 1602.7 L2066.5 1604.6 L2065.8 1606.5 L2065.2 1608.4 L2064.6 1610.3 L2064.0 1612.2 L2063.4 1614.1 L2062.8 1616.0 L2062.1 1617.9 L2061.5 1619.8 L2060.9 1621.7 L2060.3 1623.6 L2059.7 1625.5 L2059.1 1627.4 L2058.4 1629.3 L2057.8 1631.2 L2057.2 1633.1 L2056.5 1635.0 L2055.8 1636.9 L2055.2 1638.8 L2054.5 1640.7 L2053.8 1642.5 L2053.1 1644.4 L2052.4 1646.3 L2051.7 1648.1 L2051.0 1650.0 L2050.3 1651.9 L2049.5 1653.7 L2048.8 1655.6 L2048.0 1657.5 L2047.3 1659.3 L2046.6 1661.2 L2045.8 1663.0 L2045.1 1664.9 L2044.3 1666.8 L2043.6 1668.6 L2042.9 1670.5 L2042.1 1672.3 L2041.4 1674.2 L2040.7 1676.1 L2040.0 1677.9 L2039.2 1679.8 L2038.5 1681.7 L2037.8 1683.5 L2037.1 1685.4 L2036.4 1687.3 L2035.7 1689.2 L2035.0 1691.0 L2034.3 1692.9 L2033.7 1694.8 L2033.0 1696.7 L2032.3 1698.6 L2031.7 1700.5 L2031.0 1702.3 L2030.3 1704.2 L2029.7 1706.1 L2029.0 1708.0" fill="none" stroke="#ff0000" stroke-width="10" stroke-linecap="round" stroke-linejoin="round"/>
<path d="M2057.8 1631.2 L2057.2 1633.1 L2056.5 1635.0 L2055.8 1636.9 L2055.2 1638.8 L2054.5 1640.7 L2053.8 1642.5 L2053.1 1644.4 L2052.4 1646.3 L2051.7 1648.1 L2051.0 1650.0 L2050.3 1651.9 L2049.5 1653.7 L2048.8 1655.6 L2048.0 1657.5 L2047.3 1659.3 L2046.6 1661.2 L2045.8 1663.0 L2045.1 1664.9 L2044.3 1666.8 L2043.6 1668.6 L2042.9 1670.5 L2042.1 1672.3 L2041.4 1674.2 L2040.7 1676.1 L2040.0 1677.9 L2039.2 1679.8 L2038.5 1681.7 L2037.8 1683.5 L2037.1 1685.4 L2036.4 1687.3 L2035.7 1689.2 L2035.0 1691.0 L2034.3 1692.9 L2033.7 1694.8 L2033.0 1696.7 L2032.3 1698.6 L2031.7 1700.5 L2031.0 1702.3 L2030.3 1704.2 L2029.7 1706.1 L2029.0 1708.0" fill="none" stroke="#ff0000" stroke-width="13" stroke-linecap="round" stroke-linejoin="round"/>
<path d="M227.0 608.5 L229.0 608.7 L231.0 609.0 L233.0 609.2 L234.9 609.5 L236.9 609.7 L238.9 610.0 L240.9 610.2 L242.9 610.5 L244.9 610.7 L246.9 611.0 L248.8 611.2 L250.8 611.5 L252.8 611.7 L254.8 612.0 L256.8 612.2 L258.8 612.5 L260.8 612.7 L262.7 613.0 L264.7 613.2 L266.7 613.5 L268.7 613.7 L270.7 614.0 L272.7 614.2 L274.7 614.5 L276.6 614.7 L278.6 615.0 L280.6 615.2 L282.6 615.5 L284.6 615.7 L286.6 616.0 L288.6 616.2 L290.5 616.5 L292.5 616.7 L294.5 617.0 L296.5 617.2 L298.5 617.5 L300.5 617.7 L302.4 618.0 L304.4 618.2 L306.4 618.5 L308.4 618.7 L310.4 619.0 L312.4 619.2 L314.4 619.5 L316.3 619.8 L318.3 620.0 L320.3 620.3 L322.3 620.5 L324.3 620.8 L326.3 621.0 L328.3 621.3 L330.2 621.5 L332.2 621.8 L334.2 622.0 L336.2 622.3 L338.2 622.6 L340.2 622.8 L342.1 623.1 L344.1 623.3 L346.1 623.6 L348.1 623.8 L350.1 624.1 L352.1 624.3 L354.1 624.6 L356.0 624.9 L358.0 625.1 L360.0 625.4 L362.0 625.6 L364.0 625.9 L366.0 626.1 L367.9 626.4 L369.9 626.7 L371.9 626.9 L373.9 627.2 L375.9 627.4 L377.9 627.7 L379.8 627.9 L381.8 628.2 L383.8 628.5 L385.8 628.7 L387.8 629.0 L389.8 629.2 L391.8 629.5 L393.7 629.7 L395.7 630.0 L397.7 630.3 L399.7 630.5 L401.7 630.8 L403.7 631.0 L405.6 631.3 L407.6 631.6 L409.6 631.8 L411.6 632.1 L413.6 632.3 L415.6 632.6 L417.6 632.8 L419.5 633.1 L421.5 633.4 L423.5 633.6 L425.5 633.9 L427.5 634.1 L429.5 634.4 L431.4 634.7 L433.4 634.9 L435.4 635.2 L437.4 635.4 L439.4 635.7 L441.4 636.0 L443.3 636.2 L445.3 636.5 L447.3 636.7 L449.3 637.0 L451.3 637.3 L453.3 637.5 L455.2 637.8 L457.2 638.1 L459.2 638.3 L461.2 638.6 L463.2 638.8 L465.2 639.1 L467.2 639.4 L469.1 639.6 L471.1 639.9 L473.1 640.2 L475.1 640.4 L477.1 640.7 L479.1 641.0 L481.0 641.2 L483.0 641.5 L485.0 641.8 L487.0 642.1 L489.0 642.3 L490.9 642.6 L492.9 642.9 L494.9 643.1 L496.9 643.4 L498.9 643.7 L500.9 644.0 L502.8 644.2 L504.8 644.5 L506.8 644.8 L508.8 645.0 L510.8 645.3 L512.8 645.6 L514.7 645.9 L516.7 646.2 L518.7 646.4 L520.7 646.7 L522.7 647.0 L524.6 647.3 L526.6 647.5 L528.6 647.8 L530.6 648.1 L532.6 648.4 L534.5 648.7 L536.5 649.0 L538.5 649.2 L540.5 649.5 L542.5 649.8 L544.4 650.1 L546.4 650.4 L548.4 650.7 L550.4 650.9 L552.4 651.2 L554.4 651.5 L556.3 651.8 L558.3 652.1 L560.3 652.4 L562.3 652.7 L564.3 652.9 L566.2 653.2 L568.2 653.5 L570.2 653.8 L572.2 654.1 L574.2 654.4 L576.1 654.7 L578.1 655.0 L580.1 655.2 L582.1 655.5 L584.1 655.8 L586.0 656.1 L588.0 656.4 L590.0 656.7 L592.0 657.0 L594.0 657.3 L595.9 657.6 L597.9 657.9 L599.9 658.2 L601.9 658.5 L603.9 658.7 L605.8 659.0 L607.8 659.3 L609.8 659.6 L611.8 659.9 L613.7 660.2 L615.7 660.5 L617.7 660.8 L619.7 661.1 L621.7 661.4 L623.6 661.7 L625.6 662.0 L627.6 662.3 L629.6 662.6 L631.6 662.9 L633.5 663.2 L635.5 663.5 L637.5 663.8 L639.5 664.1 L641.5 664.4 L643.4 664.7 L645.4 665.0 L647.4 665.3 L649.4 665.6 L651.3 665.9 L653.3 666.2 L655.3 666.5 L657.3 666.8 L659.3 667.1 L661.2 667.4 L663.2 667.7 L665.2 668.0 L667.2 668.3 L669.2 668.6 L671.1 668.9 L673.1 669.2 L675.1 669.5 L677.1 669.8 L679.0 670.1 L681.0 670.4 L683.0 670.7 L685.0 671.0 L687.0 671.3 L688.9 671.7 L690.9 672.0 L692.9 672.3 L694.9 672.6 L696.8 672.9 L698.8 673.2 L700.8 673.5 L702.8 673.8 L704.7 674.1 L706.7 674.4 L708.7 674.7 L710.7 675.0 L712.7 675.4 L714.6 675.7 L716.6 676.0 L718.6 676.3 L720.6 676.6 L722.5 676.9 L724.5 677.2 L726.5 677.5 L728.5 677.8 L730.4 678.2 L732.4 678.5 L734.4 678.8 L736.4 679.1 L738.4 679.4 L740.3 679.7 L742.3 680.0 L744.3 680.3 L746.3 680.7 L748.2 681.0 L750.2 681.3 L752.2 681.6 L754.2 681.9 L756.1 682.2 L758.1 682.6 L760.1 682.9 L762.1 683.2 L764.0 683.5 L766.0 683.8 L768.0 684.1 L770.0 684.5 L771.9 684.8 L773.9 685.1 L775.9 685.4 L777.9 685.7 L779.8 686.0 L781.8 686.4 L783.8 686.7 L785.8 687.0 L787.7 687.3 L789.7 687.6 L791.7 688.0 L793.7 688.3 L795.6 688.6 L797.6 688.9 L799.6 689.2 L801.6 689.6 L803.5 689.9 L805.5 690.2 L807.5 690.5 L809.5 690.8 L811.4 691.2 L813.4 691.5 L815.4 691.8 L817.4 692.1 L819.3 692.5 L821.3 692.8 L823.3 693.1 L825.3 693.4 L827.2 693.8 L829.2 694.1 L831.2 694.4 L833.2 694.7 L835.1 695.1 L837.1 695.4 L839.1 695.7 L841.1 696.1 L843.0 696.4 L845.0 696.7 L847.0 697.0 L849.0 697.4 L850.9 697.7 L852.9 698.0 L854.9 698.4 L856.8 698.7 L858.8 699.0 L860.8 699.3 L862.8 699.7 L864.7 700.0 L866.7 700.3 L868.7 700.7 L870.7 701.0 L872.6 701.3 L874.6 701.7 L876.6 702.0 L878.6 702.3 L880.5 702.7 L882.5 703.0 L884.5 703.3 L886.4 703.7 L888.4 704.0 L890.4 704.3 L892.4 704.7 L894.3 705.0 L896.3 705.4 L898.3 705.7 L900.3 706.0 L902.2 706.4 L904.2 706.7 L906.2 707.0 L908.1 707.4 L910.1 707.7 L912.1 708.1 L914.1 708.4 L916.0 708.7 L918.0 709.1 L920.0 709.4 L922.0 709.8 L923.9 710.1 L925.9 710.4 L927.9 710.8 L929.8 711.1 L931.8 711.5 L933.8 711.8 L935.8 712.1 L937.7 712.5 L939.7 712.8 L941.7 713.2 L943.6 713.5 L945.6 713.9 L947.6 714.2 L949.6 714.5 L951.5 714.9 L953.5 715.2 L955.5 715.6 L957.4 715.9 L959.4 716.3 L961.4 716.6 L963.4 717.0 L965.3 717.3 L967.3 717.7 L969.3 718.0 L971.2 718.4 L973.2 718.7 L975.2 719.0 L977.2 719.4 L979.1 719.7 L981.1 720.1 L983.1 720.4 L985.0 720.8 L987.0 721.1 L989.0 721.5 L990.9 721.8 L992.9 722.2 L994.9 722.5 L996.9 722.9 L998.8 723.2 L1000.8 723.6 L1002.8 723.9 L1004.7 724.3 L1006.7 724.6 L1008.7 725.0 L1010.6 725.4 L1012.6 725.7 L1014.6 726.1 L1016.6 726.4 L1018.5 726.8 L1020.5 727.1 L1022.5 727.5 L1024.4 727.8 L1026.4 728.2 L1028.4 728.5 L1030.3 728.9 L1032.3 729.2 L1034.3 729.6 L1036.3 730.0 L1038.2 730.3 L1040.2 730.7 L1042.2 731.0 L1044.1 731.4 L1046.1 731.7 L1048.1 732.1 L1050.0 732.5 L1052.0 732.8 L1054.0 733.2 L1055.9 733.5 L1057.9 733.9 L1059.9 734.2 L1061.8 734.6 L1063.8 735.0 L1065.8 735.3 L1067.8 735.7 L1069.7 736.0 L1071.7 736.4 L1073.7 736.8 L1075.6 737.1 L1077.6 737.5 L1079.6 737.8 L1081.5 738.2 L1083.5 738.6 L1085.5 738.9 L1087.4 739.3 L1089.4 739.6 L1091.4 740.0 L1093.3 740.4 L1095.3 740.7 L1097.3 741.1 L1099.2 741.5 L1101.2 741.8 L1103.2 742.2 L1105.1 742.5 L1107.1 742.9 L1109.1 743.3 L1111.0 743.6 L1113.0 744.0 L1115.0 744.4 L1117.0 744.7 L1118.9 745.1 L1120.9 745.4 L1122.9 745.8 L1124.8 746.2 L1126.8 746.5 L1128.8 746.9 L1130.7 747.2 L1132.7 747.6 L1134.7 748.0 L1136.6 748.3 L1138.6 748.7 L1140.6 749.1 L1142.5 749.4 L1144.5 749.8 L1146.5 750.1 L1148.5 750.5 L1150.4 750.9 L1152.4 751.2 L1154.4 751.6 L1156.3 751.9 L1158.3 752.3 L1160.3 752.7 L1162.2 753.0 L1164.2 753.4 L1166.2 753.7 L1168.1 754.1 L1170.1 754.5 L1172.1 754.8 L1174.1 755.2 L1176.0 755.5 L1178.0 755.9 L1180.0 756.3 L1181.9 756.6 L1183.9 757.0 L1185.9 757.4 L1187.8 757.7 L1189.8 758.1 L1191.8 758.4 L1193.8 758.8 L1195.7 759.2 L1197.7 759.5 L1199.7 759.9 L1201.6 760.3 L1203.6 760.6 L1205.6 761.0 L1207.5 761.4 L1209.5 761.7 L1211.5 762.1 L1213.4 762.5 L1215.4 762.8 L1217.4 763.2 L1219.4 763.6 L1221.3 763.9 L1223.3 764.3 L1225.3 764.7 L1227.2 765.0 L1229.2 765.4 L1231.2 765.8 L1233.1 766.1 L1235.1 766.5 L1237.1 766.9 L1239.0 767.3 L1241.0 767.6 L1243.0 768.0 L1244.9 768.4 L1246.9 768.8 L1248.9 769.1 L1250.8 769.5 L1252.8 769.9 L1254.8 770.3 L1256.7 770.6 L1258.7 771.0 L1260.7 771.4 L1262.6 771.8 L1264.6 772.1 L1266.6 772.5 L1268.5 772.9 L1270.5 773.3 L1272.5 773.7 L1274.4 774.1 L1276.4 774.4 L1278.4 774.8 L1280.3 775.2 L1282.3 775.6 L1284.2 776.0 L1286.2 776.4 L1288.2 776.8 L1290.1 777.1 L1292.1 777.5 L1294.1 777.9 L1296.0 778.3 L1298.0 778.7 L1300.0 779.1 L1301.9 779.5 L1303.9 779.9 L1305.8 780.3 L1307.8 780.7 L1309.8 781.1 L1311.7 781.5 L1313.7 781.9 L1315.6 782.3 L1317.6 782.7 L1319.6 783.1 L1321.5 783.5 L1323.5 783.9 L1325.4 784.3 L1327.4 784.7 L1329.4 785.1 L1331.3 785.5 L1333.3 785.9 L1335.2 786.3 L1337.2 786.7 L1339.1 787.1 L1341.1 787.5 L1343.1 788.0 L1345.0 788.4 L1347.0 788.8 L1348.9 789.2 L1350.9 789.6 L1352.8 790.0 L1354.8 790.5 L1356.7 790.9 L1358.7 791.3 L1360.7 791.7 L1362.6 792.1 L1364.6 792.6 L1366.5 793.0 L1368.5 793.4 L1370.4 793.9 L1372.4 794.3 L1374.3 794.7 L1376.3 795.2 L1378.2 795.6 L1380.2 796.0 L1382.1 796.5 L1384.1 796.9 L1386.0 797.3 L1388.0 797.8 L1389.9 798.2 L1391.9 798.7 L1393.8 799.1 L1395.8 799.6 L1397.7 800.0 L1399.7 800.5 L1401.6 800.9 L1403.5 801.4 L1405.5 801.8 L1407.4 802.3 L1409.4 802.8 L1411.3 803.2 L1413.3 803.7 L1415.2 804.2 L1417.1 804.6 L1419.1 805.1 L1421.0 805.6 L1423.0 806.1 L1424.9 806.6 L1426.8 807.1 L1428.8 807.6 L1430.7 808.0 L1432.7 808.5 L1434.6 809.0 L1436.5 809.5 L1438.5 810.0 L1440.4 810.6 L1442.3 811.1 L1444.3 811.6 L1446.2 812.1 L1448.1 812.6 L1450.1 813.1 L1452.0 813.6 L1453.9 814.1 L1455.9 814.7 L1457.8 815.2 L1459.7 815.7 L1461.7 816.2 L1463.6 816.8 L1465.5 817.3 L1467.4 817.8 L1469.4 818.4 L1471.3 818.9 L1473.2 819.4 L1475.2 820.0 L1477.1 820.5 L1479.0 821.0 L1481.0 821.6 L1482.9 822.1 L1484.8 822.7 L1486.7 823.2 L1488.7 823.7 L1490.6 824.3 L1492.5 824.8 L1494.4 825.4 L1496.4 825.9 L1498.3 826.4 L1500.2 827.0 L1502.2 827.5 L1504.1 828.1 L1506.0 828.6 L1507.9 829.2 L1509.9 829.7 L1511.8 830.2 L1513.7 830.8 L1515.7 831.3 L1517.6 831.9 L1519.5 832.4 L1521.4 833.0 L1523.4 833.5 L1525.3 834.0 L1527.2 834.6 L1529.1 835.1 L1531.1 835.7 L1533.0 836.2 L1534.9 836.7 L1536.9 837.3 L1538.8 837.8 L1540.7 838.3 L1542.7 838.9 L1544.6 839.4 L1546.5 839.9 L1548.4 840.5 L1550.4 841.0 L1552.3 841.5 L1554.2 842.0 L1556.2 842.6 L1558.1 843.1 L1560.0 843.6 L1562.0 844.1 L1563.9 844.6 L1565.8 845.2 L1567.8 845.7 L1569.7 846.2 L1571.6 846.7 L1573.6 847.2 L1575.5 847.7 L1577.4 848.2 L1579.4 848.7 L1581.3 849.2 L1583.3 849.7 L1585.2 850.2 L1587.1 850.7 L1589.1 851.2 L1591.0 851.7 L1592.9 852.2 L1594.9 852.7 L1596.8 853.2 L1598.8 853.7 L1600.7 854.2 L1602.6 854.7 L1604.6 855.2 L1606.5 855.7 L1608.5 856.2 L1610.4 856.7 L1612.3 857.2 L1614.3 857.7 L1616.2 858.2 L1618.2 858.6 L1620.1 859.1 L1622.1 859.6 L1624.0 860.1 L1625.9 860.6 L1627.9 861.1 L1629.8 861.6 L1631.8 862.1 L1633.7 862.6 L1635.6 863.1 L1637.6 863.6 L1639.5 864.1 L1641.5 864.6 L1643.4 865.1 L1645.3 865.6 L1647.3 866.1 L1649.2 866.6 L1651.1 867.1 L1653.1 867.6 L1655.0 868.1 L1656.9 868.6 L1658.9 869.1 L1660.8 869.6 L1662.8 870.1 L1664.7 870.6 L1666.6 871.1 L1668.6 871.6 L1670.5 872.2 L1672.4 872.7 L1674.4 873.2 L1676.3 873.7 L1678.2 874.2 L1680.1 874.8 L1682.1 875.3 L1684.0 875.8 L1685.9 876.4 L1687.9 876.9 L1689.8 877.4 L1691.7 878.0 L1693.6 878.5 L1695.6 879.1 L1697.5 879.6 L1699.4 880.1 L1701.3 880.7 L1703.3 881.2 L1705.2 881.8 L1707.1 882.3 L1709.0 882.9 L1711.0 883.4 L1712.9 884.0 L1714.8 884.5 L1716.7 885.1 L1718.7 885.6 L1720.6 886.2 L1722.5 886.7 L1724.5 887.3 L1726.4 887.8 L1728.3 888.4 L1730.3 888.9 L1732.2 889.5 L1734.1 890.1 L1736.0 890.6 L1738.0 891.2 L1739.9 891.7 L1741.8 892.3 L1743.8 892.9 L1745.7 893.4 L1747.6 894.0 L1749.5 894.6 L1751.5 895.1 L1753.4 895.7 L1755.3 896.3 L1757.2 896.9 L1759.2 897.5 L1761.1 898.1 L1763.0 898.7 L1764.9 899.3 L1766.8 899.9 L1768.7 900.5 L1770.6 901.1 L1772.6 901.7 L1774.5 902.3 L1776.4 902.9 L1778.3 903.5 L1780.2 904.2 L1782.1 904.8 L1784.0 905.4 L1785.8 906.1 L1787.7 906.7 L1789.6 907.4 L1791.5 908.1 L1793.4 908.7 L1795.3 909.4 L1797.1 910.1 L1799.0 910.8 L1800.9 911.5 L1802.7 912.2 L1804.6 912.9 L1806.5 913.6 L1808.3 914.3 L1810.1 915.1 L1812.0 915.8 L1813.8 916.6 L1815.7 917.4 L1817.5 918.2 L1819.3 919.0 L1821.1 919.8 L1822.9 920.6 L1824.7 921.5 L1826.5 922.3 L1828.3 923.2 L1830.1 924.1 L1831.9 925.0 L1833.7 925.8 L1835.5 926.7 L1837.3 927.6 L1839.1 928.5 L1840.9 929.4 L1842.7 930.2 L1844.5 931.1 L1846.3 932.0 L1848.1 932.8 L1849.9 933.7 L1851.7 934.6 L1853.5 935.4 L1855.4 936.2 L1857.2 937.1 L1859.0 937.9 L1860.8 938.7 L1862.6 939.6 L1864.5 940.4 L1866.3 941.2 L1868.1 942.0 L1870.0 942.8 L1871.8 943.6 L1873.6 944.4 L1875.4 945.3 L1877.3 946.1 L1879.1 946.9 L1880.9 947.7 L1882.8 948.5 L1884.6 949.3 L1886.4 950.1 L1888.3 950.9 L1890.1 951.7 L1892.0 952.5 L1893.8 953.3 L1895.6 954.1 L1897.5 954.8 L1899.3 955.6 L1901.2 956.4 L1903.0 957.2 L1904.8 958.0 L1906.7 958.8 L1908.5 959.6 L1910.4 960.3 L1912.2 961.1 L1914.1 961.9 L1915.9 962.7 L1917.7 963.5 L1919.6 964.3 L1921.4 965.1 L1923.2 965.9 L1925.1 966.7 L1926.9 967.5 L1928.7 968.4 L1930.5 969.2 L1932.3 970.1 L1934.1 970.9 L1935.9 971.8 L1937.7 972.7 L1939.5 973.6 L1941.2 974.5 L1943.0 975.5 L1944.7 976.4 L1946.5 977.4 L1948.2 978.3 L1950.0 979.3 L1951.7 980.3 L1953.4 981.3 L1955.1 982.3 L1956.9 983.4 L1958.6 984.4 L1960.3 985.4 L1962.0 986.5 L1963.7 987.5 L1965.4 988.6 L1967.1 989.7 L1968.8 990.7 L1970.5 991.8 L1972.2 992.9 L1973.9 993.9 L1975.6 995.0 L1977.3 996.1 L1979.0 997.2 L1980.7 998.2 L1982.4 999.3 L1984.1 1000.4 L1985.8 1001.4 L1987.5 1002.5 L1989.2 1003.6 L1990.8 1004.6 L1992.5 1005.7 L1994.2 1006.8 L1995.9 1007.8 L1997.6 1008.9 L1999.3 1010.0 L2001.0 1011.1 L2002.7 1012.1 L2004.4 1013.2 L2006.1 1014.3 L2007.8 1015.4 L2009.5 1016.4 L2011.2 1017.5 L2012.8 1018.6 L2014.5 1019.7 L2016.2 1020.8 L2017.9 1021.9 L2019.5 1023.0 L2021.2 1024.1 L2022.8 1025.3 L2024.5 1026.4 L2026.1 1027.5 L2027.8 1028.7 L2029.4 1029.8 L2031.1 1030.9 L2032.7 1032.1 L2034.3 1033.3 L2035.9 1034.5 L2037.5 1035.6 L2039.1 1036.8 L2040.7 1038.0 L2042.3 1039.2 L2043.9 1040.5 L2045.4 1041.7 L2047.0 1042.9 L2048.6 1044.2 L2050.1 1045.4 L2051.7 1046.7 L2053.2 1047.9 L2054.8 1049.2 L2056.3 1050.5 L2057.9 1051.8 L2059.4 1053.1 L2060.9 1054.3 L2062.4 1055.7 L2064.0 1057.0 L2065.5 1058.3 L2067.0 1059.6 L2068.5 1060.9 L2070.0 1062.2 L2071.5 1063.6 L2073.0 1064.9 L2074.5 1066.2 L2076.0 1067.5 L2077.5 1068.9 L2079.0 1070.2 L2080.5 1071.6 L2082.0 1072.9 L2083.5 1074.2 L2085.0 1075.6 L2086.5 1076.9 L2088.0 1078.3 L2089.4 1079.6 L2090.9 1080.9 L2092.4 1082.3 L2093.9 1083.7 L2095.4 1085.0 L2096.8 1086.4 L2098.3 1087.8 L2099.7 1089.1 L2101.2 1090.5 L2102.6 1091.9 L2104.0 1093.4 L2105.4 1094.8 L2106.7 1096.2 L2108.1 1097.7 L2109.4 1099.2 L2110.7 1100.7 L2112.0 1102.2 L2113.2 1103.8 L2114.5 1105.3 L2115.7 1106.9 L2116.9 1108.5 L2118.0 1110.1 L2119.2 1111.7 L2120.4 1113.3 L2121.5 1115.0 L2122.6 1116.6 L2123.8 1118.3 L2124.9 1120.0 L2126.0 1121.6 L2127.1 1123.3 L2128.2 1125.0 L2129.3 1126.7 L2130.4 1128.3 L2131.5 1130.0 L2132.6 1131.7 L2133.7 1133.4 L2134.8 1135.1 L2135.9 1136.7 L2136.9 1138.4 L2138.0 1140.1 L2139.1 1141.8 L2140.1 1143.5 L2141.1 1145.2 L2142.1 1147.0 L2143.1 1148.7 L2144.1 1150.4 L2145.1 1152.2 L2146.0 1153.9 L2146.9 1155.7 L2147.8 1157.5 L2148.7 1159.3 L2149.6 1161.1 L2150.4 1162.9 L2151.2 1164.7 L2152.0 1166.5 L2152.8 1168.4 L2153.6 1170.2 L2154.4 1172.1 L2155.1 1173.9 L2155.9 1175.8 L2156.6 1177.6 L2157.4 1179.5 L2158.1 1181.4 L2158.8 1183.2 L2159.6 1185.1 L2160.3 1187.0 L2161.0 1188.8 L2161.7 1190.7 L2162.4 1192.6 L2163.1 1194.5 L2163.8 1196.3 L2164.5 1198.2 L2165.1 1200.1 L2165.8 1202.0 L2166.4 1203.9 L2167.0 1205.8 L2167.6 1207.7 L2168.2 1209.6 L2168.7 1211.5 L2169.3 1213.5 L2169.8 1215.4 L2170.3 1217.3 L2170.8 1219.3 L2171.2 1221.2 L2171.7 1223.2 L2172.1 1225.1 L2172.5 1227.1 L2173.0 1229.0 L2173.4 1231.0 L2173.8 1232.9 L2174.1 1234.9 L2174.5 1236.9 L2174.9 1238.8 L2175.2 1240.8 L2175.6 1242.8 L2175.9 1244.8 L2176.2 1246.7 L2176.6 1248.7 L2176.9 1250.7 L2177.2 1252.7 L2177.5 1254.6 L2177.8 1256.6 L2178.0 1258.6 L2178.3 1260.6 L2178.5 1262.6 L2178.7 1264.6 L2179.0 1266.5 L2179.2 1268.5 L2179.3 1270.5 L2179.5 1272.5 L2179.6 1274.5 L2179.8 1276.5 L2179.9 1278.5 L2180.0 1280.5 L2180.1 1282.5 L2180.1 1284.5 L2180.2 1286.5 L2180.2 1288.5 L2180.2 1290.5 L2180.3 1292.5 L2180.3 1294.5 L2180.3 1296.5 L2180.2 1298.5 L2180.2 1300.5 L2180.2 1302.5 L2180.1 1304.5 L2180.1 1306.5 L2180.0 1308.5 L2179.9 1310.5 L2179.9 1312.5 L2179.8 1314.5 L2179.7 1316.5 L2179.6 1318.5 L2179.5 1320.5 L2179.4 1322.5 L2179.3 1324.5 L2179.1 1326.5 L2179.0 1328.5 L2178.9 1330.5 L2178.7 1332.5 L2178.6 1334.5 L2178.4 1336.5 L2178.3 1338.5 L2178.1 1340.5 L2177.9 1342.5 L2177.7 1344.5 L2177.5 1346.4 L2177.3 1348.4 L2177.1 1350.4 L2176.9 1352.4 L2176.7 1354.4 L2176.5 1356.4 L2176.3 1358.4 L2176.1 1360.4 L2175.8 1362.4 L2175.6 1364.3 L2175.3 1366.3 L2175.1 1368.3 L2174.8 1370.3 L2174.5 1372.3 L2174.2 1374.2 L2173.9 1376.2 L2173.6 1378.2 L2173.3 1380.2 L2172.9 1382.1 L2172.6 1384.1 L2172.2 1386.1 L2171.8 1388.0 L2171.5 1390.0 L2171.1 1392.0 L2170.7 1393.9 L2170.3 1395.9 L2169.9 1397.9 L2169.5 1399.8 L2169.1 1401.8 L2168.7 1403.7 L2168.3 1405.7 L2167.9 1407.7 L2167.5 1409.6 L2167.1 1411.6 L2166.7 1413.5 L2166.3 1415.5 L2165.8 1417.5 L2165.4 1419.4 L2165.0 1421.4 L2164.6 1423.3 L2164.2 1425.3 L2163.7 1427.2 L2163.3 1429.2 L2162.9 1431.1 L2162.4 1433.1 L2162.0 1435.0 L2161.5 1437.0 L2161.0 1438.9 L2160.5 1440.9 L2160.1 1442.8 L2159.6 1444.8 L2159.0 1446.7 L2158.5 1448.6 L2158.0 1450.5 L2157.5 1452.5 L2156.9 1454.4 L2156.4 1456.3 L2155.8 1458.2 L2155.3 1460.2 L2154.7 1462.1 L2154.1 1464.0 L2153.5 1465.9 L2152.9 1467.8 L2152.3 1469.7 L2151.7 1471.6 L2151.1 1473.5 L2150.4 1475.4 L2149.8 1477.3 L2149.2 1479.2 L2148.5 1481.1 L2147.9 1483.0 L2147.2 1484.9 L2146.6 1486.8 L2145.9 1488.7 L2145.3 1490.6 L2144.7 1492.5 L2144.0 1494.4 L2143.4 1496.3 L2142.8 1498.2 L2142.2 1500.1 L2141.6 1502.0 L2141.0 1503.9 L2140.4 1505.8 L2139.8 1507.7 L2139.2 1509.6 L2138.7 1511.6 L2138.1 1513.5 L2137.5 1515.4 L2136.9 1517.3 L2136.4 1519.2 L2135.8 1521.1 L2135.2 1523.1 L2134.6 1525.0 L2134.0 1526.9 L2133.4 1528.8 L2132.8 1530.7 L2132.2 1532.6 L2131.5 1534.5 L2130.9 1536.4 L2130.2 1538.3 L2129.6 1540.2 L2128.9 1542.1 L2128.3 1543.9 L2127.6 1545.8 L2126.9 1547.7 L2126.2 1549.6 L2125.6 1551.5 L2124.9 1553.4 L2124.2 1555.2 L2123.5 1557.1 L2122.8 1559.0 L2122.1 1560.9 L2121.4 1562.8 L2120.8 1564.6 L2120.1 1566.5 L2119.4 1568.4 L2118.7 1570.3 L2118.0 1572.2 L2117.3 1574.0 L2116.7 1575.9 L2116.0 1577.8 L2115.3 1579.7 L2114.6 1581.6 L2113.9 1583.4 L2113.2 1585.3 L2112.5 1587.2 L2111.8 1589.1 L2111.2 1591.0 L2110.5 1592.8 L2109.8 1594.7 L2109.1 1596.6 L2108.4 1598.5 L2107.7 1600.3 L2107.0 1602.2 L2106.3 1604.1 L2105.5 1605.9 L2104.8 1607.8 L2104.1 1609.7 L2103.4 1611.5 L2102.6 1613.4 L2101.9 1615.3 L2101.1 1617.1 L2100.4 1619.0 L2099.6 1620.8 L2098.8 1622.6 L2098.0 1624.5 L2097.2 1626.3 L2096.4 1628.1 L2095.6 1630.0 L2094.8 1631.8 L2094.0 1633.6 L2093.1 1635.4 L2092.3 1637.3 L2091.5 1639.1 L2090.6 1640.9 L2089.8 1642.7 L2088.9 1644.5 L2088.1 1646.3 L2087.2 1648.1 L2086.3 1649.9 L2085.4 1651.7 L2084.6 1653.5 L2083.7 1655.3 L2082.8 1657.1 L2081.9 1658.9 L2081.0 1660.7 L2080.1 1662.5 L2079.2 1664.3 L2078.3 1666.0 L2077.4 1667.8 L2076.4 1669.6 L2075.5 1671.4 L2074.5 1673.1 L2073.6 1674.9 L2072.6 1676.6 L2071.7 1678.4 L2070.7 1680.1 L2069.7 1681.9 L2068.7 1683.6 L2067.6 1685.3 L2066.6 1687.0 L2065.6 1688.7 L2064.5 1690.4 L2063.5 1692.1 L2062.4 1693.8 L2061.3 1695.5 L2060.3 1697.2 L2059.2 1698.9 L2058.1 1700.6 L2057.0 1702.2 L2055.9 1703.9 L2054.8 1705.6 L2053.7 1707.3 L2052.6 1708.9 L2051.4 1710.6 L2050.3 1712.3 L2049.2 1713.9 L2048.0 1715.5 L2046.9 1717.2 L2045.7 1718.8 L2044.5 1720.3 L2043.2 1721.9 L2042.0 1723.4 L2040.7 1725.0 L2039.4 1726.5 L2038.1 1727.9 L2036.8 1729.4 L2035.4 1730.8 L2034.0 1732.3 L2032.6 1733.7 L2031.2 1735.1 L2029.8 1736.5 L2028.4 1737.9 L2026.9 1739.3 L2025.5 1740.7 L2024.1 1742.1 L2022.7 1743.5 L2021.3 1744.9 L2019.9 1746.4 L2018.5 1747.8 L2017.1 1749.2 L2015.7 1750.7 L2014.3 1752.2 L2012.9 1753.6 L2011.6 1755.1" fill="none" stroke="#ffff00" stroke-width="8.33" stroke-dasharray="33.18 10.76 9.35 10.76" stroke-linejoin="round"/>
<path d="M210.3 608.5 h33.3 M227.0 591.9 v33.3 M283.6 629.6 h33.3 M300.2 613.0 v33.3 M357.9 650.8 h33.3 M374.5 634.1 v33.3 M432.5 671.6 h33.3 M449.1 655.0 v33.3 M506.8 692.5 h33.3 M523.4 675.9 v33.3 M873.9 798.7 h33.3 M890.5 782.1 v33.3 M1208.8 903.0 h33.3 M1225.4 886.4 v33.3 M1489.4 1003.9 h33.3 M1506.1 987.2 v33.3 M1708.4 1098.5 h33.3 M1725.1 1081.8 v33.3 M1832.5 1165.3 h33.3 M1849.2 1148.6 v33.3 M1927.8 1227.2 h33.3 M1944.4 1210.5 v33.3 M1998.9 1285.2 h33.3 M2015.6 1268.5 v33.3 M2049.8 1338.4 h33.3 M2066.5 1321.8 v33.3 M2085.9 1387.5 h33.3 M2102.6 1370.8 v33.3 M2109.8 1432.2 h33.3 M2126.5 1415.5 v33.3 M2124.9 1473.5 h33.3 M2141.6 1456.8 v33.3 M2132.9 1511.2 h33.3 M2149.6 1494.5 v33.3 M2136.3 1550.1 h33.3 M2153.0 1533.4 v33.3 M2134.8 1584.4 h33.3 M2151.4 1567.8 v33.3 M2129.8 1614.5 h33.3 M2146.5 1597.8 v33.3 M2122.0 1640.6 h33.3 M2138.7 1623.9 v33.3 M2112.8 1666.3 h33.3 M2129.4 1649.6 v33.3 M2101.8 1688.2 h33.3 M2118.5 1671.5 v33.3 M2089.8 1705.7 h33.3 M2106.4 1689.0 v33.3 M2077.3 1719.0 h33.3 M2094.0 1702.3 v33.3 M2069.3 1725.5 h33.3 M2086.0 1708.8 v33.3 M2062.3 1731.0 h33.3 M2079.0 1714.3 v33.3 M2054.3 1737.0 h33.3 M2071.0 1720.3 v33.3 M2047.3 1742.0 h33.3 M2064.0 1725.3 v33.3 M2039.3 1746.5 h33.3 M2056.0 1729.8 v33.3 M2032.3 1750.0 h33.3 M2049.0 1733.3 v33.3 M2026.3 1752.0 h33.3 M2043.0 1735.3 v33.3 M2021.3 1753.4 h33.3 M2038.0 1736.8 v33.3 M2015.3 1754.3 h33.3 M2032.0 1737.6 v33.3 M2008.3 1755.0 h33.3 M2025.0 1738.3 v33.3 M2003.3 1755.0 h33.3 M2020.0 1738.3 v33.3 M1999.3 1755.0 h33.3 M2016.0 1738.3 v33.3 M1994.8 1755.0 h33.3 M2011.5 1738.3 v33.3" fill="none" stroke="#00ffff" stroke-width="8.2"/>
<g fill="#ff00ff">
<circle cx="227.0" cy="608.5" r="5.2"/>
<circle cx="299.9" cy="646.3" r="5.2"/>
<circle cx="374.2" cy="683.9" r="5.2"/>
<circle cx="448.8" cy="720.3" r="5.2"/>
<circle cx="522.8" cy="756.8" r="5.2"/>
<circle cx="889.2" cy="931.0" r="5.2"/>
<circle cx="1221.9" cy="1090.7" r="5.2"/>
<circle cx="1500.0" cy="1234.9" r="5.2"/>
<circle cx="1715.1" cy="1360.8" r="5.2"/>
<circle cx="1801.6" cy="1418.4" r="5.2"/>
<circle cx="1872.7" cy="1471.7" r="5.2"/>
<circle cx="1931.9" cy="1519.5" r="5.2"/>
<circle cx="1978.7" cy="1562.9" r="5.2"/>
<circle cx="2015.1" cy="1601.6" r="5.2"/>
<circle cx="2043.0" cy="1635.6" r="5.2"/>
<circle cx="2063.0" cy="1664.8" r="5.2"/>
<circle cx="2076.8" cy="1690.4" r="5.2"/>
<circle cx="2081.6" cy="1701.8" r="5.2"/>
<circle cx="2084.9" cy="1711.8" r="5.2"/>
<circle cx="2086.9" cy="1720.7" r="5.2"/>
</g>
<path d="M2086.9 1720.7 L2087.3 1722.7 L2087.6 1724.8 L2087.8 1726.8 L2087.9 1728.8 L2088.0 1730.9 L2087.9 1733.0 L2087.8 1735.0 L2087.6 1737.1 L2087.3 1739.1 L2086.8 1741.0 L2086.1 1742.9 L2085.1 1744.7 L2083.9 1746.3 L2082.5 1747.9 L2081.0 1749.4 L2079.5 1750.7 L2077.8 1751.9 L2076.0 1752.8 L2074.1 1753.5 L2072.1 1754.1 L2070.1 1754.5 L2068.1 1754.8 L2066.0 1755.1 L2064.0 1755.3" fill="none" stroke="#ff00ff" stroke-width="10" stroke-linecap="round" stroke-linejoin="round"/>
<rect x="1060.5" y="88" width="1290" height="280.5" fill="#fff" stroke="#262626" stroke-width="4.5"/>
<text class="lg" transform="translate(1297.2 168.5) scale(1 1.06)"><tspan x="0">r</tspan><tspan class="sb" x="24.5">1</tspan><tspan x="51.9">=1.0,</tspan><tspan x="204.9">r</tspan><tspan class="sb" x="227">2</tspan><tspan x="255.4">=0.9</tspan></text>
<text class="lg" transform="translate(1297.2 256.3) scale(1 1.06)"><tspan x="0">r</tspan><tspan class="sb" x="24.5">1</tspan><tspan x="51.9">=1.0,</tspan><tspan x="204.9">r</tspan><tspan class="sb" x="227">2</tspan><tspan x="255.4">=0.8</tspan></text>
<text class="lg" transform="translate(1297.2 344.2) scale(1 1.06)"><tspan x="0">r</tspan><tspan class="sb" x="24.5">1</tspan><tspan x="51.9">=1.0,</tspan><tspan x="204.9">r</tspan><tspan class="sb" x="227">2</tspan><tspan x="255.4">=0.7</tspan></text>
<text class="lg" transform="translate(1941.1 168.5) scale(1 1.06)"><tspan x="0">r</tspan><tspan class="sb" x="24.5">1</tspan><tspan x="51.9">=1.0,</tspan><tspan x="204.9">r</tspan><tspan class="sb" x="227">2</tspan><tspan x="255.4">=0.6</tspan></text>
<text class="lg" transform="translate(1941.1 256.3) scale(1 1.06)"><tspan x="0">r</tspan><tspan class="sb" x="24.5">1</tspan><tspan x="51.9">=1.0,</tspan><tspan x="204.9">r</tspan><tspan class="sb" x="227">2</tspan><tspan x="255.4">=0.5</tspan></text>
<text class="lg" transform="translate(1941.1 344.2) scale(1 1.06)"><tspan x="0">r</tspan><tspan class="sb" x="24.5">1</tspan><tspan x="51.9">=1.0,</tspan><tspan x="204.9">r</tspan><tspan class="sb" x="227">2</tspan><tspan x="255.4">=0.4</tspan></text>
<path d="M1080 141 H1282" stroke="#0000ff" stroke-width="8.33"/>
<path d="M1080 228.2 H1282" stroke="#00ff00" stroke-width="8.33" stroke-dasharray="41 23"/>
<path d="M1080 316 H1282" stroke="#ff0000" stroke-width="8.33"/>
<circle cx="1181" cy="316" r="5" fill="#ff0000"/>
<path d="M1725 141 H1927" stroke="#ffff00" stroke-width="8.33" stroke-dasharray="33.18 10.76 9.35 10.76"/>
<path d="M1809 228.2 h33 M1825.5 211.7 v33" stroke="#00ffff" stroke-width="8" fill="none"/>
<circle cx="1826" cy="316" r="5" fill="#ff00ff"/>
</svg></body></html>
